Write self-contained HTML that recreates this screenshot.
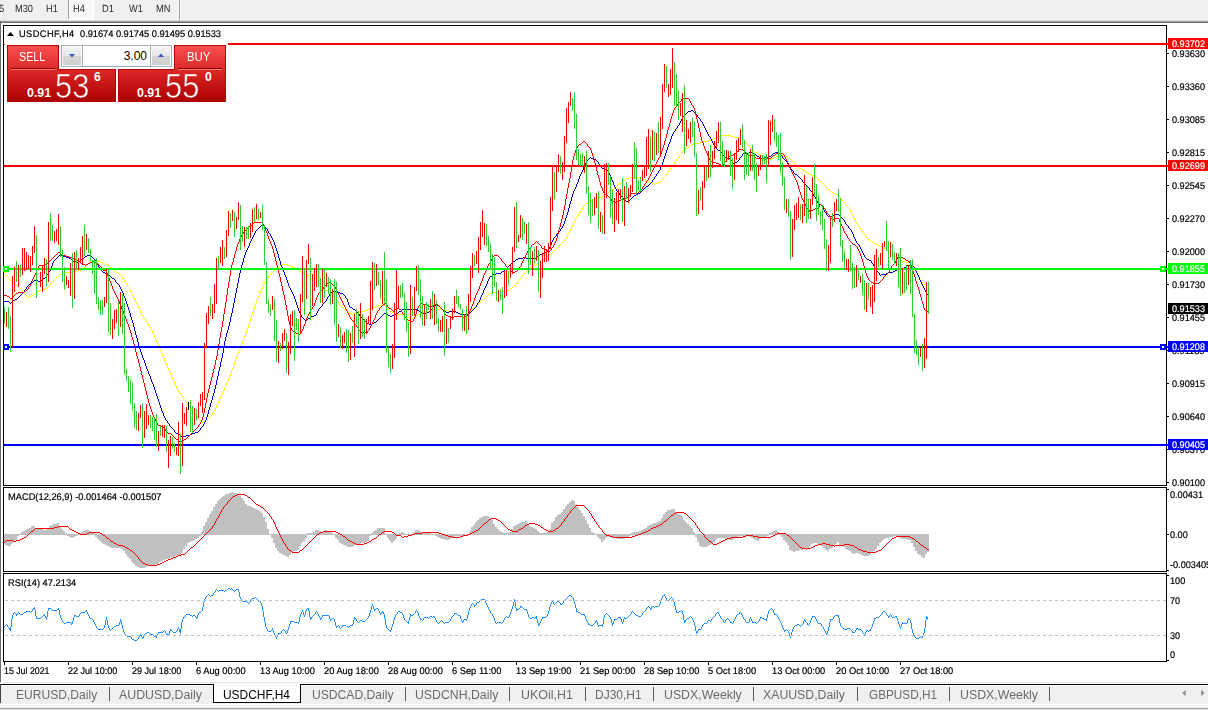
<!DOCTYPE html>
<html><head><meta charset="utf-8"><title>USDCHF,H4</title>
<style>
html,body{margin:0;padding:0;}
body{width:1208px;height:710px;overflow:hidden;background:#fff;position:relative;font-family:"Liberation Sans",sans-serif;color:#000;}
.abs{position:absolute;}
.t{position:absolute;white-space:nowrap;font-size:9.6px;line-height:11px;height:11px;-webkit-text-stroke:0.2px currentColor;transform:scaleX(0.969);transform-origin:0 50%;text-rendering:geometricPrecision;}
.ax{position:absolute;white-space:nowrap;font-size:9.6px;line-height:11px;height:11px;left:1172px;-webkit-text-stroke:0.2px currentColor;transform:scaleX(0.9512);transform-origin:0 50%;margin-top:1.0px;text-rendering:geometricPrecision;}
.tab{position:absolute;white-space:nowrap;font-size:12.3px;line-height:14px;top:688px;color:#6a6a6a;transform-origin:0 0;}
.sep{position:absolute;top:687px;width:1px;height:14px;background:#5a5a5a;}
.lab{position:absolute;left:1168px;width:40px;height:11px;color:#fff;font-size:9.2px;line-height:11px;white-space:nowrap;-webkit-text-stroke:0.2px currentColor;}
.lab span{position:absolute;left:4px;top:1.0px;font-size:9.6px;-webkit-text-stroke:0.2px currentColor;transform:scaleX(0.9512);transform-origin:0 50%;text-rendering:geometricPrecision;}
</style></head><body>

<div class="abs" style="left:0;top:0;width:1208px;height:20px;background:#f0f0f0;"></div>
<div class="abs" style="left:0;top:20px;width:1208px;height:1px;background:#dcdcdc;"></div>
<div class="abs" style="left:0;top:21px;width:1208px;height:1px;background:#a0a0a0;"></div>
<div class="abs" style="left:0;top:22px;width:1208px;height:1px;background:#696969;"></div>
<div class="abs" style="left:0;top:21px;width:1px;height:661px;background:#6a6a6a;"></div>
<div class="abs" style="left:68px;top:0;width:25px;height:19px;background:repeating-conic-gradient(#ffffff 0% 25%,#f0f0f0 0% 50%) 0 0/2px 2px;border-left:1px solid #a0a0a0;box-sizing:border-box;"></div>
<div class="abs" style="left:93px;top:0;width:1px;height:20px;background:#fff;"></div>
<div class="abs" style="left:68px;top:19px;width:26px;height:1px;background:#fff;"></div>
<div class="abs" style="left:179px;top:0;width:1px;height:21px;background:#a0a0a0;"></div>
<div class="abs" style="left:180px;top:0;width:1px;height:21px;background:#ffffff;"></div>
<div class="t" style="left:-0.6px;top:4px;color:#2a2a2a;font-size:10.4px;-webkit-text-stroke:0;transform:scaleX(0.89);transform-origin:0 0;">5</div>
<div class="t" style="left:15.4px;top:4px;color:#2a2a2a;font-size:10.4px;-webkit-text-stroke:0;transform:scaleX(0.89);transform-origin:0 0;">M30</div>
<div class="t" style="left:46.4px;top:4px;color:#2a2a2a;font-size:10.4px;-webkit-text-stroke:0;transform:scaleX(0.89);transform-origin:0 0;">H1</div>
<div class="t" style="left:73.4px;top:4px;color:#2a2a2a;font-size:10.4px;-webkit-text-stroke:0;transform:scaleX(0.89);transform-origin:0 0;">H4</div>
<div class="t" style="left:102.4px;top:4px;color:#2a2a2a;font-size:10.4px;-webkit-text-stroke:0;transform:scaleX(0.89);transform-origin:0 0;">D1</div>
<div class="t" style="left:129.4px;top:4px;color:#2a2a2a;font-size:10.4px;-webkit-text-stroke:0;transform:scaleX(0.89);transform-origin:0 0;">W1</div>
<div class="t" style="left:156.4px;top:4px;color:#2a2a2a;font-size:10.4px;-webkit-text-stroke:0;transform:scaleX(0.89);transform-origin:0 0;">MN</div>
<div class="abs" style="left:3px;top:25px;width:1162px;height:459px;border:1px solid #000;"></div>
<div class="abs" style="left:3px;top:487px;width:1162px;height:83px;border:1px solid #000;"></div>
<div class="abs" style="left:3px;top:573px;width:1162px;height:87px;border:1px solid #000;"></div>
<svg class="abs" style="left:0;top:0;" width="1208" height="710" viewBox="0 0 1208 710" shape-rendering="crispEdges">
<rect x="4" y="534" width="1" height="10" fill="#c0c0c0"/>
<rect x="5" y="534" width="2" height="11" fill="#c0c0c0"/>
<rect x="7" y="534" width="2" height="12" fill="#c0c0c0"/>
<rect x="9" y="534" width="2" height="12" fill="#c0c0c0"/>
<rect x="11" y="534" width="2" height="10" fill="#c0c0c0"/>
<rect x="13" y="534" width="2" height="8" fill="#c0c0c0"/>
<rect x="15" y="534" width="2" height="6" fill="#c0c0c0"/>
<rect x="17" y="534" width="2" height="2" fill="#c0c0c0"/>
<rect x="19" y="534" width="2" height="1" fill="#c0c0c0"/>
<rect x="21" y="532" width="2" height="3" fill="#c0c0c0"/>
<rect x="23" y="531" width="2" height="4" fill="#c0c0c0"/>
<rect x="25" y="530" width="2" height="5" fill="#c0c0c0"/>
<rect x="27" y="529" width="2" height="6" fill="#c0c0c0"/>
<rect x="29" y="528" width="2" height="7" fill="#c0c0c0"/>
<rect x="31" y="526" width="2" height="9" fill="#c0c0c0"/>
<rect x="33" y="526" width="2" height="9" fill="#c0c0c0"/>
<rect x="35" y="528" width="2" height="7" fill="#c0c0c0"/>
<rect x="37" y="529" width="2" height="6" fill="#c0c0c0"/>
<rect x="39" y="529" width="2" height="6" fill="#c0c0c0"/>
<rect x="41" y="529" width="2" height="6" fill="#c0c0c0"/>
<rect x="43" y="530" width="2" height="5" fill="#c0c0c0"/>
<rect x="45" y="530" width="2" height="5" fill="#c0c0c0"/>
<rect x="47" y="528" width="2" height="7" fill="#c0c0c0"/>
<rect x="49" y="526" width="2" height="9" fill="#c0c0c0"/>
<rect x="51" y="525" width="2" height="10" fill="#c0c0c0"/>
<rect x="53" y="524" width="2" height="11" fill="#c0c0c0"/>
<rect x="55" y="524" width="2" height="11" fill="#c0c0c0"/>
<rect x="57" y="523" width="2" height="12" fill="#c0c0c0"/>
<rect x="59" y="526" width="2" height="9" fill="#c0c0c0"/>
<rect x="61" y="529" width="2" height="6" fill="#c0c0c0"/>
<rect x="63" y="531" width="2" height="4" fill="#c0c0c0"/>
<rect x="65" y="533" width="2" height="2" fill="#c0c0c0"/>
<rect x="67" y="534" width="2" height="2" fill="#c0c0c0"/>
<rect x="69" y="534" width="2" height="3" fill="#c0c0c0"/>
<rect x="71" y="534" width="2" height="4" fill="#c0c0c0"/>
<rect x="73" y="534" width="2" height="3" fill="#c0c0c0"/>
<rect x="75" y="534" width="2" height="2" fill="#c0c0c0"/>
<rect x="77" y="534" width="2" height="1" fill="#c0c0c0"/>
<rect x="79" y="533" width="2" height="2" fill="#c0c0c0"/>
<rect x="81" y="532" width="2" height="3" fill="#c0c0c0"/>
<rect x="83" y="531" width="2" height="4" fill="#c0c0c0"/>
<rect x="85" y="530" width="2" height="5" fill="#c0c0c0"/>
<rect x="87" y="530" width="2" height="5" fill="#c0c0c0"/>
<rect x="89" y="531" width="2" height="4" fill="#c0c0c0"/>
<rect x="91" y="532" width="2" height="3" fill="#c0c0c0"/>
<rect x="93" y="533" width="2" height="2" fill="#c0c0c0"/>
<rect x="95" y="534" width="2" height="3" fill="#c0c0c0"/>
<rect x="97" y="534" width="2" height="5" fill="#c0c0c0"/>
<rect x="99" y="534" width="2" height="7" fill="#c0c0c0"/>
<rect x="101" y="534" width="2" height="9" fill="#c0c0c0"/>
<rect x="103" y="534" width="2" height="10" fill="#c0c0c0"/>
<rect x="105" y="534" width="2" height="11" fill="#c0c0c0"/>
<rect x="107" y="534" width="2" height="12" fill="#c0c0c0"/>
<rect x="109" y="534" width="2" height="13" fill="#c0c0c0"/>
<rect x="111" y="534" width="2" height="14" fill="#c0c0c0"/>
<rect x="113" y="534" width="2" height="14" fill="#c0c0c0"/>
<rect x="115" y="534" width="2" height="14" fill="#c0c0c0"/>
<rect x="117" y="534" width="2" height="14" fill="#c0c0c0"/>
<rect x="119" y="534" width="2" height="14" fill="#c0c0c0"/>
<rect x="121" y="534" width="2" height="15" fill="#c0c0c0"/>
<rect x="123" y="534" width="2" height="17" fill="#c0c0c0"/>
<rect x="125" y="534" width="2" height="20" fill="#c0c0c0"/>
<rect x="127" y="534" width="2" height="23" fill="#c0c0c0"/>
<rect x="129" y="534" width="2" height="25" fill="#c0c0c0"/>
<rect x="131" y="534" width="2" height="28" fill="#c0c0c0"/>
<rect x="133" y="534" width="2" height="30" fill="#c0c0c0"/>
<rect x="135" y="534" width="2" height="32" fill="#c0c0c0"/>
<rect x="137" y="534" width="2" height="33" fill="#c0c0c0"/>
<rect x="139" y="534" width="2" height="34" fill="#c0c0c0"/>
<rect x="141" y="534" width="2" height="34" fill="#c0c0c0"/>
<rect x="143" y="534" width="2" height="34" fill="#c0c0c0"/>
<rect x="145" y="534" width="2" height="33" fill="#c0c0c0"/>
<rect x="147" y="534" width="2" height="32" fill="#c0c0c0"/>
<rect x="149" y="534" width="2" height="32" fill="#c0c0c0"/>
<rect x="151" y="534" width="2" height="31" fill="#c0c0c0"/>
<rect x="153" y="534" width="2" height="31" fill="#c0c0c0"/>
<rect x="155" y="534" width="2" height="30" fill="#c0c0c0"/>
<rect x="157" y="534" width="2" height="30" fill="#c0c0c0"/>
<rect x="159" y="534" width="2" height="28" fill="#c0c0c0"/>
<rect x="161" y="534" width="2" height="27" fill="#c0c0c0"/>
<rect x="163" y="534" width="2" height="26" fill="#c0c0c0"/>
<rect x="165" y="534" width="2" height="25" fill="#c0c0c0"/>
<rect x="167" y="534" width="2" height="25" fill="#c0c0c0"/>
<rect x="169" y="534" width="2" height="24" fill="#c0c0c0"/>
<rect x="171" y="534" width="2" height="23" fill="#c0c0c0"/>
<rect x="173" y="534" width="2" height="23" fill="#c0c0c0"/>
<rect x="175" y="534" width="2" height="22" fill="#c0c0c0"/>
<rect x="177" y="534" width="2" height="21" fill="#c0c0c0"/>
<rect x="179" y="534" width="2" height="21" fill="#c0c0c0"/>
<rect x="181" y="534" width="2" height="19" fill="#c0c0c0"/>
<rect x="183" y="534" width="2" height="15" fill="#c0c0c0"/>
<rect x="185" y="534" width="2" height="12" fill="#c0c0c0"/>
<rect x="187" y="534" width="2" height="9" fill="#c0c0c0"/>
<rect x="189" y="534" width="2" height="8" fill="#c0c0c0"/>
<rect x="191" y="534" width="2" height="7" fill="#c0c0c0"/>
<rect x="193" y="534" width="2" height="6" fill="#c0c0c0"/>
<rect x="195" y="534" width="2" height="5" fill="#c0c0c0"/>
<rect x="197" y="534" width="2" height="4" fill="#c0c0c0"/>
<rect x="199" y="534" width="2" height="2" fill="#c0c0c0"/>
<rect x="201" y="532" width="2" height="3" fill="#c0c0c0"/>
<rect x="203" y="526" width="2" height="9" fill="#c0c0c0"/>
<rect x="205" y="522" width="2" height="13" fill="#c0c0c0"/>
<rect x="207" y="518" width="2" height="17" fill="#c0c0c0"/>
<rect x="209" y="514" width="2" height="21" fill="#c0c0c0"/>
<rect x="211" y="511" width="2" height="24" fill="#c0c0c0"/>
<rect x="213" y="507" width="2" height="28" fill="#c0c0c0"/>
<rect x="215" y="504" width="2" height="31" fill="#c0c0c0"/>
<rect x="217" y="501" width="2" height="34" fill="#c0c0c0"/>
<rect x="219" y="499" width="2" height="36" fill="#c0c0c0"/>
<rect x="221" y="497" width="2" height="38" fill="#c0c0c0"/>
<rect x="223" y="496" width="2" height="39" fill="#c0c0c0"/>
<rect x="225" y="494" width="2" height="41" fill="#c0c0c0"/>
<rect x="227" y="494" width="2" height="41" fill="#c0c0c0"/>
<rect x="229" y="493" width="2" height="42" fill="#c0c0c0"/>
<rect x="231" y="492" width="2" height="43" fill="#c0c0c0"/>
<rect x="233" y="493" width="2" height="42" fill="#c0c0c0"/>
<rect x="235" y="493" width="2" height="42" fill="#c0c0c0"/>
<rect x="237" y="494" width="2" height="41" fill="#c0c0c0"/>
<rect x="239" y="496" width="2" height="39" fill="#c0c0c0"/>
<rect x="241" y="498" width="2" height="37" fill="#c0c0c0"/>
<rect x="243" y="501" width="2" height="34" fill="#c0c0c0"/>
<rect x="245" y="504" width="2" height="31" fill="#c0c0c0"/>
<rect x="247" y="506" width="2" height="29" fill="#c0c0c0"/>
<rect x="249" y="506" width="2" height="29" fill="#c0c0c0"/>
<rect x="251" y="507" width="2" height="28" fill="#c0c0c0"/>
<rect x="253" y="508" width="2" height="27" fill="#c0c0c0"/>
<rect x="255" y="509" width="2" height="26" fill="#c0c0c0"/>
<rect x="257" y="510" width="2" height="25" fill="#c0c0c0"/>
<rect x="259" y="511" width="2" height="24" fill="#c0c0c0"/>
<rect x="261" y="513" width="2" height="22" fill="#c0c0c0"/>
<rect x="263" y="517" width="2" height="18" fill="#c0c0c0"/>
<rect x="265" y="522" width="2" height="13" fill="#c0c0c0"/>
<rect x="267" y="529" width="2" height="6" fill="#c0c0c0"/>
<rect x="269" y="534" width="2" height="1" fill="#c0c0c0"/>
<rect x="271" y="534" width="2" height="4" fill="#c0c0c0"/>
<rect x="273" y="534" width="2" height="9" fill="#c0c0c0"/>
<rect x="275" y="534" width="2" height="14" fill="#c0c0c0"/>
<rect x="277" y="534" width="2" height="17" fill="#c0c0c0"/>
<rect x="279" y="534" width="2" height="19" fill="#c0c0c0"/>
<rect x="281" y="534" width="2" height="20" fill="#c0c0c0"/>
<rect x="283" y="534" width="2" height="21" fill="#c0c0c0"/>
<rect x="285" y="534" width="2" height="22" fill="#c0c0c0"/>
<rect x="287" y="534" width="2" height="23" fill="#c0c0c0"/>
<rect x="289" y="534" width="2" height="21" fill="#c0c0c0"/>
<rect x="291" y="534" width="2" height="18" fill="#c0c0c0"/>
<rect x="293" y="534" width="2" height="17" fill="#c0c0c0"/>
<rect x="295" y="534" width="2" height="17" fill="#c0c0c0"/>
<rect x="297" y="534" width="2" height="16" fill="#c0c0c0"/>
<rect x="299" y="534" width="2" height="12" fill="#c0c0c0"/>
<rect x="301" y="534" width="2" height="9" fill="#c0c0c0"/>
<rect x="303" y="534" width="2" height="7" fill="#c0c0c0"/>
<rect x="305" y="534" width="2" height="4" fill="#c0c0c0"/>
<rect x="307" y="533" width="2" height="2" fill="#c0c0c0"/>
<rect x="309" y="533" width="2" height="2" fill="#c0c0c0"/>
<rect x="311" y="533" width="2" height="2" fill="#c0c0c0"/>
<rect x="313" y="532" width="2" height="3" fill="#c0c0c0"/>
<rect x="315" y="530" width="2" height="5" fill="#c0c0c0"/>
<rect x="317" y="530" width="2" height="5" fill="#c0c0c0"/>
<rect x="319" y="531" width="2" height="4" fill="#c0c0c0"/>
<rect x="321" y="532" width="2" height="3" fill="#c0c0c0"/>
<rect x="323" y="531" width="2" height="4" fill="#c0c0c0"/>
<rect x="325" y="530" width="2" height="5" fill="#c0c0c0"/>
<rect x="327" y="531" width="2" height="4" fill="#c0c0c0"/>
<rect x="329" y="531" width="2" height="4" fill="#c0c0c0"/>
<rect x="331" y="533" width="2" height="2" fill="#c0c0c0"/>
<rect x="333" y="534" width="2" height="1" fill="#c0c0c0"/>
<rect x="335" y="534" width="2" height="4" fill="#c0c0c0"/>
<rect x="337" y="534" width="2" height="6" fill="#c0c0c0"/>
<rect x="339" y="534" width="2" height="9" fill="#c0c0c0"/>
<rect x="341" y="534" width="2" height="10" fill="#c0c0c0"/>
<rect x="343" y="534" width="2" height="11" fill="#c0c0c0"/>
<rect x="345" y="534" width="2" height="12" fill="#c0c0c0"/>
<rect x="347" y="534" width="2" height="13" fill="#c0c0c0"/>
<rect x="349" y="534" width="2" height="13" fill="#c0c0c0"/>
<rect x="351" y="534" width="2" height="13" fill="#c0c0c0"/>
<rect x="353" y="534" width="2" height="12" fill="#c0c0c0"/>
<rect x="355" y="534" width="2" height="11" fill="#c0c0c0"/>
<rect x="357" y="534" width="2" height="10" fill="#c0c0c0"/>
<rect x="359" y="534" width="2" height="10" fill="#c0c0c0"/>
<rect x="361" y="534" width="2" height="9" fill="#c0c0c0"/>
<rect x="363" y="534" width="2" height="9" fill="#c0c0c0"/>
<rect x="365" y="534" width="2" height="8" fill="#c0c0c0"/>
<rect x="367" y="534" width="2" height="7" fill="#c0c0c0"/>
<rect x="369" y="534" width="2" height="2" fill="#c0c0c0"/>
<rect x="371" y="533" width="2" height="2" fill="#c0c0c0"/>
<rect x="373" y="531" width="2" height="4" fill="#c0c0c0"/>
<rect x="375" y="530" width="2" height="5" fill="#c0c0c0"/>
<rect x="377" y="528" width="2" height="7" fill="#c0c0c0"/>
<rect x="379" y="528" width="2" height="7" fill="#c0c0c0"/>
<rect x="381" y="528" width="2" height="7" fill="#c0c0c0"/>
<rect x="383" y="528" width="2" height="7" fill="#c0c0c0"/>
<rect x="385" y="534" width="2" height="1" fill="#c0c0c0"/>
<rect x="387" y="534" width="2" height="4" fill="#c0c0c0"/>
<rect x="389" y="534" width="2" height="7" fill="#c0c0c0"/>
<rect x="391" y="534" width="2" height="9" fill="#c0c0c0"/>
<rect x="393" y="534" width="2" height="7" fill="#c0c0c0"/>
<rect x="395" y="534" width="2" height="5" fill="#c0c0c0"/>
<rect x="397" y="534" width="2" height="2" fill="#c0c0c0"/>
<rect x="399" y="533" width="2" height="2" fill="#c0c0c0"/>
<rect x="401" y="532" width="2" height="3" fill="#c0c0c0"/>
<rect x="403" y="533" width="2" height="2" fill="#c0c0c0"/>
<rect x="405" y="534" width="2" height="1" fill="#c0c0c0"/>
<rect x="407" y="534" width="2" height="1" fill="#c0c0c0"/>
<rect x="409" y="534" width="2" height="1" fill="#c0c0c0"/>
<rect x="411" y="534" width="2" height="1" fill="#c0c0c0"/>
<rect x="413" y="532" width="2" height="3" fill="#c0c0c0"/>
<rect x="415" y="530" width="2" height="5" fill="#c0c0c0"/>
<rect x="417" y="530" width="2" height="5" fill="#c0c0c0"/>
<rect x="419" y="531" width="2" height="4" fill="#c0c0c0"/>
<rect x="421" y="532" width="2" height="3" fill="#c0c0c0"/>
<rect x="423" y="533" width="2" height="2" fill="#c0c0c0"/>
<rect x="425" y="533" width="2" height="2" fill="#c0c0c0"/>
<rect x="427" y="533" width="2" height="2" fill="#c0c0c0"/>
<rect x="429" y="533" width="2" height="2" fill="#c0c0c0"/>
<rect x="431" y="534" width="2" height="1" fill="#c0c0c0"/>
<rect x="433" y="534" width="2" height="1" fill="#c0c0c0"/>
<rect x="435" y="534" width="2" height="2" fill="#c0c0c0"/>
<rect x="437" y="534" width="2" height="3" fill="#c0c0c0"/>
<rect x="439" y="534" width="2" height="4" fill="#c0c0c0"/>
<rect x="441" y="534" width="2" height="5" fill="#c0c0c0"/>
<rect x="443" y="534" width="2" height="5" fill="#c0c0c0"/>
<rect x="445" y="534" width="2" height="6" fill="#c0c0c0"/>
<rect x="447" y="534" width="2" height="6" fill="#c0c0c0"/>
<rect x="449" y="534" width="2" height="5" fill="#c0c0c0"/>
<rect x="451" y="534" width="2" height="4" fill="#c0c0c0"/>
<rect x="453" y="534" width="2" height="3" fill="#c0c0c0"/>
<rect x="455" y="534" width="2" height="2" fill="#c0c0c0"/>
<rect x="457" y="534" width="2" height="2" fill="#c0c0c0"/>
<rect x="459" y="534" width="2" height="2" fill="#c0c0c0"/>
<rect x="461" y="534" width="2" height="2" fill="#c0c0c0"/>
<rect x="463" y="534" width="2" height="2" fill="#c0c0c0"/>
<rect x="465" y="534" width="2" height="1" fill="#c0c0c0"/>
<rect x="467" y="534" width="2" height="1" fill="#c0c0c0"/>
<rect x="469" y="531" width="2" height="4" fill="#c0c0c0"/>
<rect x="471" y="527" width="2" height="8" fill="#c0c0c0"/>
<rect x="473" y="525" width="2" height="10" fill="#c0c0c0"/>
<rect x="475" y="522" width="2" height="13" fill="#c0c0c0"/>
<rect x="477" y="520" width="2" height="15" fill="#c0c0c0"/>
<rect x="479" y="518" width="2" height="17" fill="#c0c0c0"/>
<rect x="481" y="517" width="2" height="18" fill="#c0c0c0"/>
<rect x="483" y="516" width="2" height="19" fill="#c0c0c0"/>
<rect x="485" y="516" width="2" height="19" fill="#c0c0c0"/>
<rect x="487" y="516" width="2" height="19" fill="#c0c0c0"/>
<rect x="489" y="518" width="2" height="17" fill="#c0c0c0"/>
<rect x="491" y="520" width="2" height="15" fill="#c0c0c0"/>
<rect x="493" y="524" width="2" height="11" fill="#c0c0c0"/>
<rect x="495" y="527" width="2" height="8" fill="#c0c0c0"/>
<rect x="497" y="529" width="2" height="6" fill="#c0c0c0"/>
<rect x="499" y="531" width="2" height="4" fill="#c0c0c0"/>
<rect x="501" y="532" width="2" height="3" fill="#c0c0c0"/>
<rect x="503" y="533" width="2" height="2" fill="#c0c0c0"/>
<rect x="505" y="533" width="2" height="2" fill="#c0c0c0"/>
<rect x="507" y="533" width="2" height="2" fill="#c0c0c0"/>
<rect x="509" y="532" width="2" height="3" fill="#c0c0c0"/>
<rect x="511" y="529" width="2" height="6" fill="#c0c0c0"/>
<rect x="513" y="526" width="2" height="9" fill="#c0c0c0"/>
<rect x="515" y="525" width="2" height="10" fill="#c0c0c0"/>
<rect x="517" y="524" width="2" height="11" fill="#c0c0c0"/>
<rect x="519" y="523" width="2" height="12" fill="#c0c0c0"/>
<rect x="521" y="522" width="2" height="13" fill="#c0c0c0"/>
<rect x="523" y="522" width="2" height="13" fill="#c0c0c0"/>
<rect x="525" y="521" width="2" height="14" fill="#c0c0c0"/>
<rect x="527" y="524" width="2" height="11" fill="#c0c0c0"/>
<rect x="529" y="526" width="2" height="9" fill="#c0c0c0"/>
<rect x="531" y="527" width="2" height="8" fill="#c0c0c0"/>
<rect x="533" y="528" width="2" height="7" fill="#c0c0c0"/>
<rect x="535" y="529" width="2" height="6" fill="#c0c0c0"/>
<rect x="537" y="531" width="2" height="4" fill="#c0c0c0"/>
<rect x="539" y="533" width="2" height="2" fill="#c0c0c0"/>
<rect x="541" y="533" width="2" height="2" fill="#c0c0c0"/>
<rect x="543" y="533" width="2" height="2" fill="#c0c0c0"/>
<rect x="545" y="533" width="2" height="2" fill="#c0c0c0"/>
<rect x="547" y="532" width="2" height="3" fill="#c0c0c0"/>
<rect x="549" y="529" width="2" height="6" fill="#c0c0c0"/>
<rect x="551" y="523" width="2" height="12" fill="#c0c0c0"/>
<rect x="553" y="521" width="2" height="14" fill="#c0c0c0"/>
<rect x="555" y="517" width="2" height="18" fill="#c0c0c0"/>
<rect x="557" y="515" width="2" height="20" fill="#c0c0c0"/>
<rect x="559" y="514" width="2" height="21" fill="#c0c0c0"/>
<rect x="561" y="512" width="2" height="23" fill="#c0c0c0"/>
<rect x="563" y="509" width="2" height="26" fill="#c0c0c0"/>
<rect x="565" y="506" width="2" height="29" fill="#c0c0c0"/>
<rect x="567" y="504" width="2" height="31" fill="#c0c0c0"/>
<rect x="569" y="502" width="2" height="33" fill="#c0c0c0"/>
<rect x="571" y="500" width="2" height="35" fill="#c0c0c0"/>
<rect x="573" y="501" width="2" height="34" fill="#c0c0c0"/>
<rect x="575" y="504" width="2" height="31" fill="#c0c0c0"/>
<rect x="577" y="507" width="2" height="28" fill="#c0c0c0"/>
<rect x="579" y="510" width="2" height="25" fill="#c0c0c0"/>
<rect x="581" y="513" width="2" height="22" fill="#c0c0c0"/>
<rect x="583" y="516" width="2" height="19" fill="#c0c0c0"/>
<rect x="585" y="520" width="2" height="15" fill="#c0c0c0"/>
<rect x="587" y="524" width="2" height="11" fill="#c0c0c0"/>
<rect x="589" y="528" width="2" height="7" fill="#c0c0c0"/>
<rect x="591" y="532" width="2" height="3" fill="#c0c0c0"/>
<rect x="593" y="533" width="2" height="2" fill="#c0c0c0"/>
<rect x="595" y="534" width="2" height="1" fill="#c0c0c0"/>
<rect x="597" y="534" width="2" height="3" fill="#c0c0c0"/>
<rect x="599" y="534" width="2" height="5" fill="#c0c0c0"/>
<rect x="601" y="534" width="2" height="8" fill="#c0c0c0"/>
<rect x="603" y="534" width="2" height="6" fill="#c0c0c0"/>
<rect x="605" y="534" width="2" height="4" fill="#c0c0c0"/>
<rect x="607" y="534" width="2" height="3" fill="#c0c0c0"/>
<rect x="609" y="534" width="2" height="3" fill="#c0c0c0"/>
<rect x="611" y="534" width="2" height="4" fill="#c0c0c0"/>
<rect x="613" y="534" width="2" height="4" fill="#c0c0c0"/>
<rect x="615" y="534" width="2" height="4" fill="#c0c0c0"/>
<rect x="617" y="534" width="2" height="5" fill="#c0c0c0"/>
<rect x="619" y="534" width="2" height="5" fill="#c0c0c0"/>
<rect x="621" y="534" width="2" height="5" fill="#c0c0c0"/>
<rect x="623" y="534" width="2" height="5" fill="#c0c0c0"/>
<rect x="625" y="534" width="2" height="4" fill="#c0c0c0"/>
<rect x="627" y="534" width="2" height="3" fill="#c0c0c0"/>
<rect x="629" y="534" width="2" height="2" fill="#c0c0c0"/>
<rect x="631" y="533" width="2" height="2" fill="#c0c0c0"/>
<rect x="633" y="532" width="2" height="3" fill="#c0c0c0"/>
<rect x="635" y="532" width="2" height="3" fill="#c0c0c0"/>
<rect x="637" y="532" width="2" height="3" fill="#c0c0c0"/>
<rect x="639" y="531" width="2" height="4" fill="#c0c0c0"/>
<rect x="641" y="530" width="2" height="5" fill="#c0c0c0"/>
<rect x="643" y="529" width="2" height="6" fill="#c0c0c0"/>
<rect x="645" y="528" width="2" height="7" fill="#c0c0c0"/>
<rect x="647" y="526" width="2" height="9" fill="#c0c0c0"/>
<rect x="649" y="525" width="2" height="10" fill="#c0c0c0"/>
<rect x="651" y="524" width="2" height="11" fill="#c0c0c0"/>
<rect x="653" y="523" width="2" height="12" fill="#c0c0c0"/>
<rect x="655" y="523" width="2" height="12" fill="#c0c0c0"/>
<rect x="657" y="522" width="2" height="13" fill="#c0c0c0"/>
<rect x="659" y="521" width="2" height="14" fill="#c0c0c0"/>
<rect x="661" y="518" width="2" height="17" fill="#c0c0c0"/>
<rect x="663" y="514" width="2" height="21" fill="#c0c0c0"/>
<rect x="665" y="512" width="2" height="23" fill="#c0c0c0"/>
<rect x="667" y="510" width="2" height="25" fill="#c0c0c0"/>
<rect x="669" y="510" width="2" height="25" fill="#c0c0c0"/>
<rect x="671" y="509" width="2" height="26" fill="#c0c0c0"/>
<rect x="673" y="509" width="2" height="26" fill="#c0c0c0"/>
<rect x="675" y="512" width="2" height="23" fill="#c0c0c0"/>
<rect x="677" y="514" width="2" height="21" fill="#c0c0c0"/>
<rect x="679" y="515" width="2" height="20" fill="#c0c0c0"/>
<rect x="681" y="516" width="2" height="19" fill="#c0c0c0"/>
<rect x="683" y="520" width="2" height="15" fill="#c0c0c0"/>
<rect x="685" y="522" width="2" height="13" fill="#c0c0c0"/>
<rect x="687" y="524" width="2" height="11" fill="#c0c0c0"/>
<rect x="689" y="526" width="2" height="9" fill="#c0c0c0"/>
<rect x="691" y="528" width="2" height="7" fill="#c0c0c0"/>
<rect x="693" y="532" width="2" height="3" fill="#c0c0c0"/>
<rect x="695" y="534" width="2" height="3" fill="#c0c0c0"/>
<rect x="697" y="534" width="2" height="8" fill="#c0c0c0"/>
<rect x="699" y="534" width="2" height="12" fill="#c0c0c0"/>
<rect x="701" y="534" width="2" height="13" fill="#c0c0c0"/>
<rect x="703" y="534" width="2" height="13" fill="#c0c0c0"/>
<rect x="705" y="534" width="2" height="13" fill="#c0c0c0"/>
<rect x="707" y="534" width="2" height="12" fill="#c0c0c0"/>
<rect x="709" y="534" width="2" height="11" fill="#c0c0c0"/>
<rect x="711" y="534" width="2" height="10" fill="#c0c0c0"/>
<rect x="713" y="534" width="2" height="8" fill="#c0c0c0"/>
<rect x="715" y="534" width="2" height="6" fill="#c0c0c0"/>
<rect x="717" y="534" width="2" height="4" fill="#c0c0c0"/>
<rect x="719" y="534" width="2" height="4" fill="#c0c0c0"/>
<rect x="721" y="534" width="2" height="4" fill="#c0c0c0"/>
<rect x="723" y="534" width="2" height="4" fill="#c0c0c0"/>
<rect x="725" y="534" width="2" height="5" fill="#c0c0c0"/>
<rect x="727" y="534" width="2" height="5" fill="#c0c0c0"/>
<rect x="729" y="534" width="2" height="6" fill="#c0c0c0"/>
<rect x="731" y="534" width="2" height="6" fill="#c0c0c0"/>
<rect x="733" y="534" width="2" height="5" fill="#c0c0c0"/>
<rect x="735" y="534" width="2" height="4" fill="#c0c0c0"/>
<rect x="737" y="534" width="2" height="3" fill="#c0c0c0"/>
<rect x="739" y="534" width="2" height="2" fill="#c0c0c0"/>
<rect x="741" y="534" width="2" height="2" fill="#c0c0c0"/>
<rect x="743" y="534" width="2" height="2" fill="#c0c0c0"/>
<rect x="745" y="534" width="2" height="2" fill="#c0c0c0"/>
<rect x="747" y="534" width="2" height="2" fill="#c0c0c0"/>
<rect x="749" y="534" width="2" height="3" fill="#c0c0c0"/>
<rect x="751" y="534" width="2" height="4" fill="#c0c0c0"/>
<rect x="753" y="534" width="2" height="5" fill="#c0c0c0"/>
<rect x="755" y="534" width="2" height="6" fill="#c0c0c0"/>
<rect x="757" y="534" width="2" height="7" fill="#c0c0c0"/>
<rect x="759" y="534" width="2" height="5" fill="#c0c0c0"/>
<rect x="761" y="534" width="2" height="4" fill="#c0c0c0"/>
<rect x="763" y="534" width="2" height="3" fill="#c0c0c0"/>
<rect x="765" y="534" width="2" height="3" fill="#c0c0c0"/>
<rect x="767" y="534" width="2" height="2" fill="#c0c0c0"/>
<rect x="769" y="533" width="2" height="2" fill="#c0c0c0"/>
<rect x="771" y="532" width="2" height="3" fill="#c0c0c0"/>
<rect x="773" y="531" width="2" height="4" fill="#c0c0c0"/>
<rect x="775" y="530" width="2" height="5" fill="#c0c0c0"/>
<rect x="777" y="532" width="2" height="3" fill="#c0c0c0"/>
<rect x="779" y="533" width="2" height="2" fill="#c0c0c0"/>
<rect x="781" y="534" width="2" height="3" fill="#c0c0c0"/>
<rect x="783" y="534" width="2" height="6" fill="#c0c0c0"/>
<rect x="785" y="534" width="2" height="8" fill="#c0c0c0"/>
<rect x="787" y="534" width="2" height="11" fill="#c0c0c0"/>
<rect x="789" y="534" width="2" height="16" fill="#c0c0c0"/>
<rect x="791" y="534" width="2" height="17" fill="#c0c0c0"/>
<rect x="793" y="534" width="2" height="18" fill="#c0c0c0"/>
<rect x="795" y="534" width="2" height="17" fill="#c0c0c0"/>
<rect x="797" y="534" width="2" height="17" fill="#c0c0c0"/>
<rect x="799" y="534" width="2" height="16" fill="#c0c0c0"/>
<rect x="801" y="534" width="2" height="16" fill="#c0c0c0"/>
<rect x="803" y="534" width="2" height="15" fill="#c0c0c0"/>
<rect x="805" y="534" width="2" height="15" fill="#c0c0c0"/>
<rect x="807" y="534" width="2" height="14" fill="#c0c0c0"/>
<rect x="809" y="534" width="2" height="12" fill="#c0c0c0"/>
<rect x="811" y="534" width="2" height="10" fill="#c0c0c0"/>
<rect x="813" y="534" width="2" height="9" fill="#c0c0c0"/>
<rect x="815" y="534" width="2" height="9" fill="#c0c0c0"/>
<rect x="817" y="534" width="2" height="10" fill="#c0c0c0"/>
<rect x="819" y="534" width="2" height="10" fill="#c0c0c0"/>
<rect x="821" y="534" width="2" height="12" fill="#c0c0c0"/>
<rect x="823" y="534" width="2" height="14" fill="#c0c0c0"/>
<rect x="825" y="534" width="2" height="16" fill="#c0c0c0"/>
<rect x="827" y="534" width="2" height="17" fill="#c0c0c0"/>
<rect x="829" y="534" width="2" height="15" fill="#c0c0c0"/>
<rect x="831" y="534" width="2" height="14" fill="#c0c0c0"/>
<rect x="833" y="534" width="2" height="12" fill="#c0c0c0"/>
<rect x="835" y="534" width="2" height="10" fill="#c0c0c0"/>
<rect x="837" y="534" width="2" height="8" fill="#c0c0c0"/>
<rect x="839" y="534" width="2" height="11" fill="#c0c0c0"/>
<rect x="841" y="534" width="2" height="12" fill="#c0c0c0"/>
<rect x="843" y="534" width="2" height="13" fill="#c0c0c0"/>
<rect x="845" y="534" width="2" height="15" fill="#c0c0c0"/>
<rect x="847" y="534" width="2" height="16" fill="#c0c0c0"/>
<rect x="849" y="534" width="2" height="17" fill="#c0c0c0"/>
<rect x="851" y="534" width="2" height="19" fill="#c0c0c0"/>
<rect x="853" y="534" width="2" height="20" fill="#c0c0c0"/>
<rect x="855" y="534" width="2" height="19" fill="#c0c0c0"/>
<rect x="857" y="534" width="2" height="19" fill="#c0c0c0"/>
<rect x="859" y="534" width="2" height="20" fill="#c0c0c0"/>
<rect x="861" y="534" width="2" height="21" fill="#c0c0c0"/>
<rect x="863" y="534" width="2" height="22" fill="#c0c0c0"/>
<rect x="865" y="534" width="2" height="22" fill="#c0c0c0"/>
<rect x="867" y="534" width="2" height="22" fill="#c0c0c0"/>
<rect x="869" y="534" width="2" height="21" fill="#c0c0c0"/>
<rect x="871" y="534" width="2" height="19" fill="#c0c0c0"/>
<rect x="873" y="534" width="2" height="17" fill="#c0c0c0"/>
<rect x="875" y="534" width="2" height="15" fill="#c0c0c0"/>
<rect x="877" y="534" width="2" height="12" fill="#c0c0c0"/>
<rect x="879" y="534" width="2" height="9" fill="#c0c0c0"/>
<rect x="881" y="534" width="2" height="7" fill="#c0c0c0"/>
<rect x="883" y="534" width="2" height="5" fill="#c0c0c0"/>
<rect x="885" y="534" width="2" height="4" fill="#c0c0c0"/>
<rect x="887" y="534" width="2" height="4" fill="#c0c0c0"/>
<rect x="889" y="534" width="2" height="3" fill="#c0c0c0"/>
<rect x="891" y="534" width="2" height="3" fill="#c0c0c0"/>
<rect x="893" y="534" width="2" height="2" fill="#c0c0c0"/>
<rect x="895" y="534" width="2" height="2" fill="#c0c0c0"/>
<rect x="897" y="534" width="2" height="3" fill="#c0c0c0"/>
<rect x="899" y="534" width="2" height="4" fill="#c0c0c0"/>
<rect x="901" y="534" width="2" height="5" fill="#c0c0c0"/>
<rect x="903" y="534" width="2" height="5" fill="#c0c0c0"/>
<rect x="905" y="534" width="2" height="5" fill="#c0c0c0"/>
<rect x="907" y="534" width="2" height="6" fill="#c0c0c0"/>
<rect x="909" y="534" width="2" height="6" fill="#c0c0c0"/>
<rect x="911" y="534" width="2" height="9" fill="#c0c0c0"/>
<rect x="913" y="534" width="2" height="13" fill="#c0c0c0"/>
<rect x="915" y="534" width="2" height="17" fill="#c0c0c0"/>
<rect x="917" y="534" width="2" height="20" fill="#c0c0c0"/>
<rect x="919" y="534" width="2" height="21" fill="#c0c0c0"/>
<rect x="921" y="534" width="2" height="23" fill="#c0c0c0"/>
<rect x="923" y="534" width="2" height="24" fill="#c0c0c0"/>
<rect x="925" y="534" width="2" height="20" fill="#c0c0c0"/>
<rect x="927" y="534" width="2" height="18" fill="#c0c0c0"/>
<path d="M4 542h1v1h-1zM5 541h1v1h-1zM6 540h7v1h-7zM13 541h3v1h-3zM16 540h4v1h-4zM20 539h2v1h-2zM22 538h2v1h-2zM24 537h2v1h-2zM26 536h1v1h-1zM27 535h1v1h-1zM28 534h1v1h-1zM29 533h1v1h-1zM30 532h1v1h-1zM31 531h2v1h-2zM33 530h1v1h-1zM34 529h1v1h-1zM35 528h19v1h-19zM54 527h4v1h-4zM58 526h10v1h-10zM68 527h1v1h-1zM69 528h1v1h-1zM70 529h2v1h-2zM72 530h2v1h-2zM74 531h2v1h-2zM76 532h2v1h-2zM78 533h2v1h-2zM80 534h7v1h-7zM87 533h2v1h-2zM89 532h11v1h-11zM100 533h2v1h-2zM102 534h1v1h-1zM103 535h2v1h-2zM105 536h1v1h-1zM106 537h1v1h-1zM107 538h2v1h-2zM109 539h1v1h-1zM110 540h1v1h-1zM111 541h2v1h-2zM113 542h1v1h-1zM114 543h2v1h-2zM116 544h2v1h-2zM118 545h5v1h-5zM123 546h2v1h-2zM125 547h2v1h-2zM127 548h2v1h-2zM129 549h1v1h-1zM130 550h2v1h-2zM132 551h1v1h-1zM133 552h1v1h-1zM134 553h1v1h-1zM135 554h1v1h-1zM136 555h1v1h-1zM137 556h1v1h-1zM138 557h1v2h-1zM139 559h1v1h-1zM140 560h1v1h-1zM141 561h1v1h-1zM142 562h1v1h-1zM143 563h2v1h-2zM145 564h3v1h-3zM148 565h9v1h-9zM157 564h3v1h-3zM160 563h2v1h-2zM162 562h2v1h-2zM164 561h2v1h-2zM166 560h2v1h-2zM168 559h3v1h-3zM171 558h2v1h-2zM173 557h3v1h-3zM176 556h2v1h-2zM178 555h3v1h-3zM181 554h4v1h-4zM185 553h1v1h-1zM186 552h1v1h-1zM187 551h1v1h-1zM188 550h1v1h-1zM189 549h1v1h-1zM190 548h1v1h-1zM191 547h2v1h-2zM193 546h1v1h-1zM194 545h1v1h-1zM195 544h1v1h-1zM196 543h1v1h-1zM197 542h1v1h-1zM198 541h1v1h-1zM199 540h1v1h-1zM200 539h1v1h-1zM201 538h1v1h-1zM202 537h1v1h-1zM203 536h1v1h-1zM204 535h1v1h-1zM205 534h1v1h-1zM206 533h1v1h-1zM207 532h1v1h-1zM208 531h1v1h-1zM209 530h1v1h-1zM210 529h1v1h-1zM211 528h1v1h-1zM212 526h1v2h-1zM213 525h1v1h-1zM214 523h1v2h-1zM215 521h1v2h-1zM216 519h1v2h-1zM217 518h1v1h-1zM218 516h1v2h-1zM219 514h1v2h-1zM220 512h1v2h-1zM221 510h1v2h-1zM222 509h1v1h-1zM223 507h1v2h-1zM224 506h1v1h-1zM225 505h1v1h-1zM226 504h1v1h-1zM227 502h1v2h-1zM228 501h1v1h-1zM229 500h1v1h-1zM230 499h1v1h-1zM231 498h1v1h-1zM232 497h1v1h-1zM233 496h2v1h-2zM235 495h2v1h-2zM237 494h8v1h-8zM245 495h2v1h-2zM247 496h1v1h-1zM248 497h2v1h-2zM250 498h1v1h-1zM251 499h1v1h-1zM252 500h1v1h-1zM253 501h1v1h-1zM254 502h1v1h-1zM255 503h1v1h-1zM256 504h2v1h-2zM258 505h2v1h-2zM260 506h1v1h-1zM261 507h2v1h-2zM263 508h1v1h-1zM264 509h1v1h-1zM265 510h1v1h-1zM266 511h1v1h-1zM267 512h1v1h-1zM268 513h1v1h-1zM269 514h1v2h-1zM270 516h1v1h-1zM271 517h1v2h-1zM272 519h1v1h-1zM273 520h1v2h-1zM274 522h1v2h-1zM275 524h1v3h-1zM276 527h1v2h-1zM277 529h1v2h-1zM278 531h1v2h-1zM279 533h1v2h-1zM280 535h1v2h-1zM281 537h1v2h-1zM282 539h1v2h-1zM283 541h1v2h-1zM284 543h1v1h-1zM285 544h1v2h-1zM286 546h1v1h-1zM287 547h1v2h-1zM288 549h1v1h-1zM289 550h2v1h-2zM291 551h1v1h-1zM292 552h7v1h-7zM299 551h1v1h-1zM300 550h2v1h-2zM302 549h1v1h-1zM303 548h1v1h-1zM304 547h1v1h-1zM305 546h1v1h-1zM306 545h1v1h-1zM307 544h1v1h-1zM308 543h1v1h-1zM309 542h1v1h-1zM310 541h1v1h-1zM311 540h1v1h-1zM312 539h1v1h-1zM313 538h1v1h-1zM314 537h1v1h-1zM315 536h1v1h-1zM316 535h1v1h-1zM317 534h2v1h-2zM319 533h1v1h-1zM320 532h3v1h-3zM323 531h13v1h-13zM336 532h2v1h-2zM338 533h2v1h-2zM340 534h2v1h-2zM342 535h1v1h-1zM343 536h2v1h-2zM345 537h1v1h-1zM346 538h1v1h-1zM347 539h1v1h-1zM348 540h2v1h-2zM350 541h2v1h-2zM352 542h2v1h-2zM354 543h2v1h-2zM356 544h8v1h-8zM364 543h3v1h-3zM367 542h2v1h-2zM369 541h2v1h-2zM371 540h1v1h-1zM372 539h2v1h-2zM374 538h2v1h-2zM376 537h1v1h-1zM377 536h1v1h-1zM378 535h1v1h-1zM379 534h2v1h-2zM381 533h1v1h-1zM382 532h2v1h-2zM384 531h8v1h-8zM392 532h2v1h-2zM394 533h1v1h-1zM395 534h1v1h-1zM396 535h5v1h-5zM401 536h1v1h-1zM402 537h2v1h-2zM404 536h4v1h-4zM408 535h4v1h-4zM412 534h3v1h-3zM415 533h7v1h-7zM422 532h17v1h-17zM439 533h3v1h-3zM442 534h3v1h-3zM445 535h3v1h-3zM448 536h4v1h-4zM452 537h8v1h-8zM460 536h3v1h-3zM463 535h5v1h-5zM468 534h2v1h-2zM470 533h2v1h-2zM472 532h2v1h-2zM474 531h2v1h-2zM476 530h2v1h-2zM478 529h1v1h-1zM479 528h1v1h-1zM480 527h1v1h-1zM481 526h1v1h-1zM482 525h1v1h-1zM483 524h1v1h-1zM484 523h2v1h-2zM486 522h1v1h-1zM487 521h1v1h-1zM488 520h1v1h-1zM489 519h2v1h-2zM491 518h5v1h-5zM496 519h2v1h-2zM498 520h2v1h-2zM500 521h1v1h-1zM501 522h1v1h-1zM502 523h1v1h-1zM503 524h1v1h-1zM504 525h1v1h-1zM505 526h1v1h-1zM506 527h1v1h-1zM507 528h1v1h-1zM508 529h2v1h-2zM510 530h2v1h-2zM512 531h6v1h-6zM518 530h1v1h-1zM519 529h2v1h-2zM521 528h2v1h-2zM523 527h1v1h-1zM524 526h1v1h-1zM525 525h2v1h-2zM527 524h2v1h-2zM529 523h6v1h-6zM535 524h3v1h-3zM538 525h2v1h-2zM540 526h1v1h-1zM541 527h2v1h-2zM543 528h1v1h-1zM544 529h2v1h-2zM546 530h2v1h-2zM548 531h5v1h-5zM553 530h2v1h-2zM555 529h1v1h-1zM556 528h2v1h-2zM558 527h1v1h-1zM559 526h1v1h-1zM560 525h1v1h-1zM561 523h1v2h-1zM562 522h1v1h-1zM563 521h1v1h-1zM564 519h1v2h-1zM565 518h1v1h-1zM566 517h1v1h-1zM567 515h1v2h-1zM568 514h1v1h-1zM569 513h1v1h-1zM570 511h1v2h-1zM571 510h1v1h-1zM572 509h1v1h-1zM573 508h1v1h-1zM574 507h1v1h-1zM575 506h1v1h-1zM576 505h8v1h-8zM584 506h1v1h-1zM585 507h1v1h-1zM586 508h1v1h-1zM587 509h1v1h-1zM588 510h1v1h-1zM589 511h1v2h-1zM590 513h1v1h-1zM591 514h1v2h-1zM592 516h1v2h-1zM593 518h1v1h-1zM594 519h1v2h-1zM595 521h1v1h-1zM596 522h1v2h-1zM597 524h1v1h-1zM598 525h1v2h-1zM599 527h1v1h-1zM600 528h1v1h-1zM601 529h1v1h-1zM602 530h1v2h-1zM603 532h1v1h-1zM604 533h1v1h-1zM605 534h1v1h-1zM606 535h4v1h-4zM610 536h3v1h-3zM613 537h19v1h-19zM632 536h3v1h-3zM635 535h3v1h-3zM638 534h3v1h-3zM641 533h2v1h-2zM643 532h3v1h-3zM646 531h2v1h-2zM648 530h2v1h-2zM650 529h1v1h-1zM651 528h2v1h-2zM653 527h3v1h-3zM656 526h2v1h-2zM658 525h2v1h-2zM660 524h2v1h-2zM662 523h1v1h-1zM663 522h1v1h-1zM664 521h2v1h-2zM666 520h1v1h-1zM667 519h1v1h-1zM668 518h1v1h-1zM669 517h1v1h-1zM670 516h1v1h-1zM671 515h2v1h-2zM673 514h1v1h-1zM674 513h2v1h-2zM676 512h8v1h-8zM684 513h2v1h-2zM686 514h1v1h-1zM687 515h1v1h-1zM688 516h1v1h-1zM689 517h1v1h-1zM690 518h1v1h-1zM691 519h1v1h-1zM692 520h1v1h-1zM693 521h1v1h-1zM694 522h1v1h-1zM695 523h1v2h-1zM696 525h1v1h-1zM697 526h1v2h-1zM698 528h1v1h-1zM699 529h1v2h-1zM700 531h1v1h-1zM701 532h1v1h-1zM702 533h1v1h-1zM703 534h1v1h-1zM704 535h1v2h-1zM705 537h1v1h-1zM706 538h1v1h-1zM707 539h1v1h-1zM708 540h1v1h-1zM709 541h2v1h-2zM711 542h1v1h-1zM712 543h1v1h-1zM713 544h4v1h-4zM717 543h2v1h-2zM719 542h2v1h-2zM721 541h2v1h-2zM723 540h2v1h-2zM725 539h2v1h-2zM727 538h4v1h-4zM731 537h12v1h-12zM743 536h3v1h-3zM746 535h7v1h-7zM753 536h5v1h-5zM758 537h13v1h-13zM771 536h2v1h-2zM773 535h2v1h-2zM775 534h2v1h-2zM777 533h9v1h-9zM786 534h1v1h-1zM787 535h2v1h-2zM789 536h1v1h-1zM790 537h1v1h-1zM791 538h1v1h-1zM792 539h1v1h-1zM793 540h1v1h-1zM794 541h1v1h-1zM795 542h1v1h-1zM796 543h1v1h-1zM797 544h1v1h-1zM798 545h1v1h-1zM799 546h1v1h-1zM800 547h2v1h-2zM802 548h4v1h-4zM806 549h1v1h-1zM807 548h4v1h-4zM811 547h2v1h-2zM813 546h2v1h-2zM815 545h3v1h-3zM818 544h4v1h-4zM822 543h4v1h-4zM826 544h4v1h-4zM830 545h4v1h-4zM834 546h1v1h-1zM835 545h9v1h-9zM844 544h6v1h-6zM850 545h4v1h-4zM854 546h1v1h-1zM855 547h2v1h-2zM857 548h1v1h-1zM858 549h3v1h-3zM861 550h2v1h-2zM863 551h4v1h-4zM867 552h9v1h-9zM876 551h2v1h-2zM878 550h3v1h-3zM881 549h1v1h-1zM882 548h1v1h-1zM883 547h1v1h-1zM884 546h1v1h-1zM885 545h1v1h-1zM886 544h1v1h-1zM887 543h1v1h-1zM888 542h1v1h-1zM889 541h1v1h-1zM890 540h1v1h-1zM891 539h1v1h-1zM892 538h2v1h-2zM894 537h2v1h-2zM896 536h14v1h-14zM910 537h2v1h-2zM912 538h2v1h-2zM914 539h1v1h-1zM915 540h1v1h-1zM916 541h2v1h-2zM918 542h1v1h-1zM919 543h1v1h-1zM920 544h1v1h-1zM921 545h2v1h-2zM923 546h1v1h-1zM924 547h2v1h-2zM926 548h1v1h-1zM927 549h2v1h-2z" fill="#ff0000"/>
<path d="M4 626h1v1h-1zM5 625h1v1h-1zM6 624h1v1h-1zM7 625h1v2h-1zM8 627h1v1h-1zM9 628h1v2h-1zM10 627h1v4h-1zM11 619h1v8h-1zM12 615h1v4h-1zM13 613h1v2h-1zM14 612h1v1h-1zM15 613h1v1h-1zM16 614h1v2h-1zM17 613h1v2h-1zM18 612h1v1h-1zM19 613h1v1h-1zM20 614h3v1h-3zM23 613h1v1h-1zM24 612h2v1h-2zM26 611h4v1h-4zM30 612h1v1h-1zM31 611h1v1h-1zM32 609h1v2h-1zM33 608h1v1h-1zM34 607h1v3h-1zM35 610h1v6h-1zM36 616h1v3h-1zM37 618h4v1h-4zM41 617h1v1h-1zM42 616h1v1h-1zM43 615h1v1h-1zM44 614h1v2h-1zM45 616h1v2h-1zM46 617h1v3h-1zM47 611h1v6h-1zM48 608h1v3h-1zM49 608h2v1h-2zM51 609h1v1h-1zM52 610h5v1h-5zM57 609h1v1h-1zM58 608h1v2h-1zM59 610h1v5h-1zM60 615h1v3h-1zM61 618h1v2h-1zM62 620h1v2h-1zM63 622h1v1h-1zM64 623h2v1h-2zM66 622h5v1h-5zM71 623h1v2h-1zM72 621h1v3h-1zM73 617h1v4h-1zM74 615h1v2h-1zM75 615h1v1h-1zM76 616h3v1h-3zM79 614h1v2h-1zM80 613h1v1h-1zM81 612h4v1h-4zM85 611h1v1h-1zM86 610h1v2h-1zM87 612h1v2h-1zM88 614h1v2h-1zM89 616h1v2h-1zM90 618h2v1h-2zM92 619h1v1h-1zM93 620h1v2h-1zM94 622h1v2h-1zM95 624h1v2h-1zM96 626h1v2h-1zM97 628h1v1h-1zM98 629h5v1h-5zM103 628h1v1h-1zM104 625h1v3h-1zM105 620h1v5h-1zM106 617h1v3h-1zM107 620h1v5h-1zM108 625h1v3h-1zM109 628h1v2h-1zM110 630h1v1h-1zM111 629h1v1h-1zM112 628h1v1h-1zM113 627h1v1h-1zM114 626h2v1h-2zM116 625h3v1h-3zM119 622h1v3h-1zM120 619h1v3h-1zM121 621h1v4h-1zM122 625h1v4h-1zM123 629h1v3h-1zM124 632h1v2h-1zM125 634h1v1h-1zM126 635h1v1h-1zM127 636h4v1h-4zM131 637h1v2h-1zM132 639h2v1h-2zM134 640h3v1h-3zM137 639h1v1h-1zM138 637h1v2h-1zM139 636h1v1h-1zM140 634h1v2h-1zM141 635h1v2h-1zM142 637h1v2h-1zM143 636h1v2h-1zM144 634h1v2h-1zM145 633h2v1h-2zM147 632h2v1h-2zM149 633h1v1h-1zM150 634h3v1h-3zM153 635h1v1h-1zM154 636h2v1h-2zM156 636h1v2h-1zM157 634h1v2h-1zM158 632h1v2h-1zM159 632h4v1h-4zM163 631h1v1h-1zM164 630h1v1h-1zM165 631h1v2h-1zM166 633h1v2h-1zM167 634h2v1h-2zM169 631h1v3h-1zM170 629h1v2h-1zM171 630h1v1h-1zM172 631h1v1h-1zM173 632h3v1h-3zM176 631h1v1h-1zM177 629h1v2h-1zM178 627h1v2h-1zM179 629h1v3h-1zM180 629h1v5h-1zM181 622h1v7h-1zM182 619h1v3h-1zM183 617h1v2h-1zM184 617h1v1h-1zM185 615h1v2h-1zM186 614h4v1h-4zM190 615h2v1h-2zM192 616h1v1h-1zM193 615h2v1h-2zM195 616h1v1h-1zM196 617h1v2h-1zM197 615h1v3h-1zM198 613h1v2h-1zM199 612h2v1h-2zM201 611h1v1h-1zM202 607h1v4h-1zM203 602h1v5h-1zM204 599h1v3h-1zM205 597h1v2h-1zM206 596h1v1h-1zM207 595h1v1h-1zM208 594h1v1h-1zM209 595h1v1h-1zM210 596h1v1h-1zM211 595h2v1h-2zM213 593h1v2h-1zM214 592h1v1h-1zM215 590h1v2h-1zM216 589h1v1h-1zM217 590h1v1h-1zM218 591h1v1h-1zM219 590h5v1h-5zM224 591h1v1h-1zM225 590h2v1h-2zM227 589h1v1h-1zM228 588h2v1h-2zM230 589h1v1h-1zM231 588h1v1h-1zM232 589h1v1h-1zM233 590h1v1h-1zM234 591h1v1h-1zM235 590h1v1h-1zM236 589h2v1h-2zM238 589h1v3h-1zM239 592h1v5h-1zM240 597h1v2h-1zM241 599h1v2h-1zM242 601h5v1h-5zM247 602h1v1h-1zM248 603h1v1h-1zM249 602h1v1h-1zM250 600h1v2h-1zM251 599h1v1h-1zM252 598h3v1h-3zM255 597h1v1h-1zM256 598h1v1h-1zM257 599h1v1h-1zM258 600h1v2h-1zM259 600h1v1h-1zM260 601h1v2h-1zM261 603h1v3h-1zM262 606h1v5h-1zM263 611h1v6h-1zM264 617h1v5h-1zM265 622h1v5h-1zM266 627h1v2h-1zM267 629h1v2h-1zM268 631h3v1h-3zM271 630h1v1h-1zM272 628h1v2h-1zM273 630h1v3h-1zM274 633h1v2h-1zM275 635h1v2h-1zM276 637h1v2h-1zM277 635h1v2h-1zM278 633h1v2h-1zM279 633h2v1h-2zM281 631h1v2h-1zM282 630h1v1h-1zM283 629h1v1h-1zM284 630h1v1h-1zM285 631h1v2h-1zM286 633h1v1h-1zM287 630h1v3h-1zM288 627h1v3h-1zM289 624h1v3h-1zM290 621h1v3h-1zM291 621h3v1h-3zM294 622h4v1h-4zM298 622h1v2h-1zM299 617h1v5h-1zM300 614h1v3h-1zM301 612h1v2h-1zM302 610h1v2h-1zM303 612h1v3h-1zM304 615h1v2h-1zM305 611h1v4h-1zM306 609h1v2h-1zM307 608h1v1h-1zM308 608h1v3h-1zM309 611h1v6h-1zM310 617h1v3h-1zM311 617h1v2h-1zM312 616h1v1h-1zM313 615h1v1h-1zM314 614h1v1h-1zM315 612h1v2h-1zM316 611h1v1h-1zM317 612h1v2h-1zM318 614h1v2h-1zM319 616h1v2h-1zM320 618h1v2h-1zM321 617h1v2h-1zM322 615h1v2h-1zM323 615h6v1h-6zM329 616h1v3h-1zM330 619h1v2h-1zM331 619h1v1h-1zM332 618h2v1h-2zM334 619h1v3h-1zM335 622h1v4h-1zM336 626h1v2h-1zM337 626h1v1h-1zM338 625h1v1h-1zM339 626h1v2h-1zM340 628h1v1h-1zM341 627h1v1h-1zM342 625h1v2h-1zM343 625h3v1h-3zM346 626h2v1h-2zM348 627h1v1h-1zM349 626h1v1h-1zM350 625h2v1h-2zM352 624h1v2h-1zM353 620h1v4h-1zM354 617h1v3h-1zM355 618h1v1h-1zM356 619h1v2h-1zM357 621h1v1h-1zM358 622h1v1h-1zM359 621h1v1h-1zM360 620h2v1h-2zM362 621h3v1h-3zM365 620h1v1h-1zM366 619h1v1h-1zM367 618h1v1h-1zM368 616h1v2h-1zM369 613h1v3h-1zM370 610h1v3h-1zM371 606h1v4h-1zM372 604h1v2h-1zM373 606h1v3h-1zM374 609h1v2h-1zM375 609h1v1h-1zM376 608h2v1h-2zM378 609h1v2h-1zM379 611h1v2h-1zM380 613h1v2h-1zM381 613h1v1h-1zM382 611h1v2h-1zM383 612h1v2h-1zM384 614h1v5h-1zM385 619h1v6h-1zM386 625h1v3h-1zM387 628h1v1h-1zM388 629h1v1h-1zM389 630h1v1h-1zM390 630h1v2h-1zM391 627h1v3h-1zM392 624h1v3h-1zM393 620h1v4h-1zM394 617h1v3h-1zM395 615h1v2h-1zM396 614h1v1h-1zM397 612h1v2h-1zM398 611h2v1h-2zM400 612h2v1h-2zM402 613h1v2h-1zM403 615h1v3h-1zM404 618h1v2h-1zM405 620h1v1h-1zM406 621h1v1h-1zM407 622h1v1h-1zM408 621h1v3h-1zM409 617h1v4h-1zM410 614h1v3h-1zM411 615h2v1h-2zM413 614h1v1h-1zM414 613h1v1h-1zM415 611h1v2h-1zM416 610h1v1h-1zM417 611h1v2h-1zM418 613h1v3h-1zM419 616h1v2h-1zM420 618h1v2h-1zM421 619h1v1h-1zM422 620h1v1h-1zM423 618h1v2h-1zM424 617h4v1h-4zM428 618h1v1h-1zM429 617h1v1h-1zM430 616h2v1h-2zM432 617h1v1h-1zM433 616h1v1h-1zM434 616h1v2h-1zM435 618h1v2h-1zM436 620h1v2h-1zM437 622h1v1h-1zM438 623h1v1h-1zM439 622h1v1h-1zM440 621h1v1h-1zM441 620h1v1h-1zM442 621h1v1h-1zM443 622h1v1h-1zM444 623h1v1h-1zM445 622h4v1h-4zM449 621h1v1h-1zM450 619h1v2h-1zM451 617h1v2h-1zM452 616h1v1h-1zM453 615h1v1h-1zM454 613h1v2h-1zM455 613h2v1h-2zM457 614h1v1h-1zM458 615h2v1h-2zM460 616h1v3h-1zM461 619h1v2h-1zM462 621h1v2h-1zM463 620h1v2h-1zM464 619h2v1h-2zM466 619h1v2h-1zM467 615h1v4h-1zM468 611h1v4h-1zM469 608h1v3h-1zM470 606h1v2h-1zM471 604h1v2h-1zM472 603h1v1h-1zM473 604h1v1h-1zM474 605h1v2h-1zM475 605h1v1h-1zM476 603h1v2h-1zM477 602h2v1h-2zM479 601h1v1h-1zM480 600h1v1h-1zM481 599h4v1h-4zM485 600h1v3h-1zM486 603h1v2h-1zM487 605h1v2h-1zM488 607h1v2h-1zM489 609h1v2h-1zM490 611h1v2h-1zM491 613h1v1h-1zM492 614h1v2h-1zM493 616h1v2h-1zM494 618h1v3h-1zM495 621h1v2h-1zM496 623h1v1h-1zM497 622h4v1h-4zM501 623h1v1h-1zM502 622h1v1h-1zM503 620h1v2h-1zM504 618h1v2h-1zM505 617h1v1h-1zM506 616h1v1h-1zM507 617h2v1h-2zM509 615h1v2h-1zM510 612h1v3h-1zM511 609h1v3h-1zM512 606h1v3h-1zM513 602h1v4h-1zM514 599h1v3h-1zM515 602h1v6h-1zM516 608h1v3h-1zM517 609h2v1h-2zM519 608h1v1h-1zM520 606h1v2h-1zM521 606h1v1h-1zM522 607h1v1h-1zM523 608h1v1h-1zM524 609h2v1h-2zM526 609h1v2h-1zM527 611h1v3h-1zM528 614h1v3h-1zM529 617h1v1h-1zM530 618h2v1h-2zM532 617h2v1h-2zM534 618h1v1h-1zM535 617h1v1h-1zM536 616h1v3h-1zM537 619h1v4h-1zM538 623h1v3h-1zM539 623h1v2h-1zM540 621h1v2h-1zM541 619h1v2h-1zM542 617h1v2h-1zM543 617h3v1h-3zM546 616h1v1h-1zM547 614h1v2h-1zM548 611h1v3h-1zM549 607h1v4h-1zM550 604h1v3h-1zM551 602h1v2h-1zM552 601h1v1h-1zM553 602h1v2h-1zM554 604h1v1h-1zM555 603h1v1h-1zM556 602h1v1h-1zM557 601h2v1h-2zM559 602h1v1h-1zM560 603h1v2h-1zM561 604h1v1h-1zM562 603h1v1h-1zM563 601h1v2h-1zM564 600h1v1h-1zM565 599h1v1h-1zM566 598h1v1h-1zM567 597h1v1h-1zM568 596h1v1h-1zM569 595h2v1h-2zM571 596h1v1h-1zM572 597h1v1h-1zM573 598h1v3h-1zM574 601h1v3h-1zM575 604h1v4h-1zM576 608h1v4h-1zM577 611h1v1h-1zM578 612h2v1h-2zM580 613h1v1h-1zM581 614h3v1h-3zM584 614h1v2h-1zM585 616h1v3h-1zM586 619h1v2h-1zM587 621h1v2h-1zM588 623h1v2h-1zM589 624h1v1h-1zM590 625h3v1h-3zM593 624h1v1h-1zM594 623h1v1h-1zM595 621h1v2h-1zM596 620h1v2h-1zM597 622h1v3h-1zM598 625h1v2h-1zM599 625h3v1h-3zM602 624h1v3h-1zM603 618h1v6h-1zM604 615h1v3h-1zM605 614h1v1h-1zM606 613h1v1h-1zM607 614h1v1h-1zM608 615h1v1h-1zM609 616h1v1h-1zM610 617h1v2h-1zM611 619h1v4h-1zM612 623h1v3h-1zM613 621h1v3h-1zM614 619h1v2h-1zM615 619h2v1h-2zM617 618h1v1h-1zM618 617h2v1h-2zM620 617h1v2h-1zM621 619h1v3h-1zM622 622h1v2h-1zM623 619h1v3h-1zM624 617h1v2h-1zM625 618h2v1h-2zM627 617h1v1h-1zM628 616h1v1h-1zM629 615h1v1h-1zM630 614h1v1h-1zM631 612h1v2h-1zM632 611h1v1h-1zM633 612h1v1h-1zM634 613h1v1h-1zM635 614h1v1h-1zM636 615h2v1h-2zM638 616h3v1h-3zM641 615h1v1h-1zM642 613h1v2h-1zM643 612h1v1h-1zM644 611h1v1h-1zM645 610h1v1h-1zM646 608h1v2h-1zM647 607h1v1h-1zM648 606h1v1h-1zM649 607h1v1h-1zM650 608h1v2h-1zM651 607h1v2h-1zM652 606h2v1h-2zM654 607h1v1h-1zM655 606h4v1h-4zM659 604h1v2h-1zM660 601h1v3h-1zM661 598h1v3h-1zM662 596h1v2h-1zM663 595h1v1h-1zM664 594h1v2h-1zM665 596h1v2h-1zM666 598h1v2h-1zM667 600h2v1h-2zM669 599h1v1h-1zM670 598h1v1h-1zM671 597h1v1h-1zM672 598h1v1h-1zM673 599h1v3h-1zM674 602h1v4h-1zM675 606h1v4h-1zM676 610h1v3h-1zM677 612h2v1h-2zM679 611h2v1h-2zM681 610h1v1h-1zM682 611h1v3h-1zM683 614h1v6h-1zM684 620h1v3h-1zM685 620h1v2h-1zM686 619h1v1h-1zM687 618h2v1h-2zM689 617h1v1h-1zM690 616h1v1h-1zM691 617h1v1h-1zM692 618h1v2h-1zM693 620h1v2h-1zM694 622h1v4h-1zM695 626h1v5h-1zM696 631h1v3h-1zM697 631h1v2h-1zM698 629h1v2h-1zM699 629h2v1h-2zM701 627h1v2h-1zM702 625h1v2h-1zM703 624h1v1h-1zM704 623h3v1h-3zM707 621h1v2h-1zM708 620h2v1h-2zM710 621h1v1h-1zM711 619h1v2h-1zM712 618h1v1h-1zM713 617h1v1h-1zM714 616h1v1h-1zM715 614h1v2h-1zM716 613h1v1h-1zM717 612h1v1h-1zM718 612h1v2h-1zM719 614h1v2h-1zM720 616h1v2h-1zM721 618h1v1h-1zM722 619h1v1h-1zM723 620h1v2h-1zM724 622h1v1h-1zM725 620h1v2h-1zM726 619h1v1h-1zM727 618h1v1h-1zM728 619h1v1h-1zM729 620h1v1h-1zM730 621h1v2h-1zM731 622h1v1h-1zM732 623h1v1h-1zM733 621h1v2h-1zM734 619h1v2h-1zM735 617h1v2h-1zM736 615h1v2h-1zM737 614h2v1h-2zM739 612h1v2h-1zM740 612h1v1h-1zM741 613h1v2h-1zM742 615h1v2h-1zM743 617h1v2h-1zM744 619h1v1h-1zM745 620h1v2h-1zM746 622h3v1h-3zM749 619h1v3h-1zM750 617h1v2h-1zM751 619h1v2h-1zM752 621h1v2h-1zM753 622h3v1h-3zM756 623h1v1h-1zM757 622h1v1h-1zM758 621h1v1h-1zM759 619h1v2h-1zM760 617h1v2h-1zM761 617h1v1h-1zM762 618h2v1h-2zM764 619h2v1h-2zM766 618h1v3h-1zM767 614h1v4h-1zM768 611h1v3h-1zM769 610h1v1h-1zM770 609h1v1h-1zM771 608h1v1h-1zM772 609h1v1h-1zM773 610h1v3h-1zM774 613h1v2h-1zM775 614h2v1h-2zM777 615h1v2h-1zM778 617h1v2h-1zM779 619h1v2h-1zM780 621h1v2h-1zM781 623h1v2h-1zM782 625h1v3h-1zM783 628h1v2h-1zM784 630h1v2h-1zM785 630h1v1h-1zM786 629h1v1h-1zM787 630h1v1h-1zM788 631h1v2h-1zM789 633h1v3h-1zM790 636h1v2h-1zM791 632h1v4h-1zM792 629h1v3h-1zM793 627h1v2h-1zM794 626h1v1h-1zM795 625h2v1h-2zM797 624h2v1h-2zM799 625h1v1h-1zM800 626h1v1h-1zM801 625h1v1h-1zM802 624h1v1h-1zM803 621h1v3h-1zM804 619h1v2h-1zM805 620h1v2h-1zM806 622h1v1h-1zM807 623h1v2h-1zM808 625h1v1h-1zM809 623h1v2h-1zM810 620h1v3h-1zM811 618h1v2h-1zM812 616h1v2h-1zM813 616h2v1h-2zM815 617h1v2h-1zM816 619h1v2h-1zM817 621h1v2h-1zM818 623h3v1h-3zM821 624h1v2h-1zM822 626h1v1h-1zM823 627h1v2h-1zM824 629h1v2h-1zM825 631h1v2h-1zM826 633h1v2h-1zM827 631h1v3h-1zM828 627h1v4h-1zM829 622h1v5h-1zM830 619h1v3h-1zM831 619h2v1h-2zM833 617h1v2h-1zM834 616h1v1h-1zM835 615h3v1h-3zM838 615h1v3h-1zM839 618h1v5h-1zM840 623h1v3h-1zM841 626h1v1h-1zM842 627h1v1h-1zM843 628h1v1h-1zM844 629h3v1h-3zM847 628h3v1h-3zM850 629h1v1h-1zM851 630h1v1h-1zM852 631h1v2h-1zM853 632h2v1h-2zM855 630h1v2h-1zM856 628h1v2h-1zM857 628h1v1h-1zM858 629h3v1h-3zM861 630h1v1h-1zM862 631h1v2h-1zM863 633h1v1h-1zM864 634h1v2h-1zM865 632h1v2h-1zM866 630h1v2h-1zM867 630h1v1h-1zM868 631h1v1h-1zM869 630h1v1h-1zM870 629h1v2h-1zM871 627h1v2h-1zM872 624h1v3h-1zM873 621h1v3h-1zM874 618h1v3h-1zM875 618h1v1h-1zM876 617h3v1h-3zM879 616h1v1h-1zM880 615h1v1h-1zM881 614h1v1h-1zM882 612h1v2h-1zM883 611h2v1h-2zM885 612h1v1h-1zM886 613h1v2h-1zM887 615h1v1h-1zM888 616h1v2h-1zM889 615h1v2h-1zM890 614h1v1h-1zM891 615h1v2h-1zM892 617h3v1h-3zM895 616h1v1h-1zM896 616h1v2h-1zM897 618h1v3h-1zM898 621h1v3h-1zM899 624h1v3h-1zM900 627h1v2h-1zM901 624h1v3h-1zM902 622h1v2h-1zM903 623h4v1h-4zM907 620h1v3h-1zM908 618h1v2h-1zM909 619h1v1h-1zM910 620h1v3h-1zM911 623h1v6h-1zM912 629h1v4h-1zM913 633h1v2h-1zM914 635h1v2h-1zM915 637h1v1h-1zM916 638h3v1h-3zM919 637h1v1h-1zM920 636h1v1h-1zM921 637h1v1h-1zM922 636h1v2h-1zM923 633h1v3h-1zM924 628h1v5h-1zM925 620h1v8h-1zM926 616h1v4h-1zM927 617h1v2h-1z" fill="#1e90ff"/>
<path d="M4 272h1v1h-1zM5 273h1v2h-1zM6 275h1v1h-1zM7 276h1v1h-1zM8 277h1v1h-1zM9 278h1v1h-1zM10 279h1v2h-1zM11 281h1v1h-1zM12 282h2v1h-2zM14 283h1v1h-1zM15 284h1v1h-1zM16 285h1v1h-1zM17 286h2v1h-2zM19 287h1v1h-1zM20 288h1v1h-1zM21 289h1v1h-1zM22 290h1v2h-1zM23 292h1v1h-1zM24 293h1v1h-1zM25 294h1v1h-1zM26 295h1v1h-1zM27 296h1v1h-1zM28 297h2v1h-2zM30 296h2v1h-2zM32 295h1v1h-1zM33 294h2v1h-2zM35 293h1v1h-1zM36 292h1v1h-1zM37 291h2v1h-2zM39 290h4v1h-4zM43 289h2v1h-2zM45 288h2v1h-2zM47 287h1v1h-1zM48 286h1v1h-1zM49 285h1v1h-1zM50 283h1v2h-1zM51 282h1v1h-1zM52 281h1v1h-1zM53 280h1v1h-1zM54 279h1v1h-1zM55 278h1v1h-1zM56 277h1v1h-1zM57 276h2v1h-2zM59 275h1v1h-1zM60 274h1v1h-1zM61 273h2v1h-2zM63 272h9v1h-9zM72 271h6v1h-6zM78 270h4v1h-4zM82 269h1v1h-1zM83 268h1v1h-1zM84 267h1v1h-1zM85 266h1v1h-1zM86 265h1v1h-1zM87 264h1v1h-1zM88 263h1v1h-1zM89 262h1v1h-1zM90 261h2v1h-2zM92 260h6v1h-6zM98 261h2v1h-2zM100 262h3v1h-3zM103 263h2v1h-2zM105 264h2v1h-2zM107 265h2v1h-2zM109 266h1v1h-1zM110 267h1v1h-1zM111 268h1v1h-1zM112 269h1v1h-1zM113 270h1v1h-1zM114 271h2v1h-2zM116 272h2v1h-2zM118 273h1v1h-1zM119 274h1v1h-1zM120 275h1v1h-1zM121 276h1v1h-1zM122 277h1v2h-1zM123 279h1v1h-1zM124 280h1v2h-1zM125 282h1v1h-1zM126 283h1v2h-1zM127 285h1v2h-1zM128 287h1v1h-1zM129 288h1v2h-1zM130 290h1v2h-1zM131 292h1v2h-1zM132 294h1v2h-1zM133 296h1v2h-1zM134 298h1v2h-1zM135 300h1v2h-1zM136 302h1v2h-1zM137 304h1v2h-1zM138 306h1v2h-1zM139 308h1v2h-1zM140 310h1v3h-1zM141 313h1v2h-1zM142 315h1v1h-1zM143 316h1v2h-1zM144 318h1v1h-1zM145 319h1v2h-1zM146 321h1v1h-1zM147 322h1v2h-1zM148 324h1v2h-1zM149 326h1v1h-1zM150 327h1v2h-1zM151 329h1v2h-1zM152 331h1v2h-1zM153 333h1v2h-1zM154 335h1v2h-1zM155 337h1v3h-1zM156 340h1v2h-1zM157 342h1v2h-1zM158 344h1v2h-1zM159 346h1v3h-1zM160 349h1v2h-1zM161 351h1v2h-1zM162 353h1v3h-1zM163 356h1v2h-1zM164 358h1v3h-1zM165 361h1v2h-1zM166 363h1v3h-1zM167 366h1v2h-1zM168 368h1v2h-1zM169 370h1v3h-1zM170 373h1v2h-1zM171 375h1v2h-1zM172 377h1v2h-1zM173 379h1v2h-1zM174 381h1v3h-1zM175 384h1v2h-1zM176 386h1v2h-1zM177 388h1v2h-1zM178 390h1v2h-1zM179 392h1v1h-1zM180 393h1v1h-1zM181 394h1v2h-1zM182 396h1v1h-1zM183 397h1v2h-1zM184 399h1v1h-1zM185 400h1v2h-1zM186 402h1v1h-1zM187 403h1v2h-1zM188 405h1v1h-1zM189 406h1v1h-1zM190 407h1v1h-1zM191 408h1v2h-1zM192 410h1v1h-1zM193 411h1v1h-1zM194 412h1v1h-1zM195 413h1v2h-1zM196 415h1v1h-1zM197 416h1v2h-1zM198 418h1v1h-1zM199 419h1v1h-1zM200 420h1v1h-1zM201 421h1v1h-1zM202 422h1v1h-1zM203 421h2v1h-2zM205 420h1v1h-1zM206 419h2v1h-2zM208 418h1v1h-1zM209 417h1v1h-1zM210 416h1v1h-1zM211 415h1v1h-1zM212 413h1v2h-1zM213 411h1v2h-1zM214 410h1v1h-1zM215 408h1v2h-1zM216 405h1v3h-1zM217 403h1v2h-1zM218 401h1v2h-1zM219 399h1v2h-1zM220 397h1v2h-1zM221 395h1v2h-1zM222 392h1v3h-1zM223 390h1v2h-1zM224 388h1v2h-1zM225 385h1v3h-1zM226 383h1v2h-1zM227 381h1v2h-1zM228 378h1v3h-1zM229 376h1v2h-1zM230 373h1v3h-1zM231 370h1v3h-1zM232 368h1v2h-1zM233 365h1v3h-1zM234 362h1v3h-1zM235 359h1v3h-1zM236 357h1v2h-1zM237 354h1v3h-1zM238 351h1v3h-1zM239 349h1v2h-1zM240 346h1v3h-1zM241 344h1v2h-1zM242 341h1v3h-1zM243 338h1v3h-1zM244 336h1v2h-1zM245 333h1v3h-1zM246 330h1v3h-1zM247 328h1v2h-1zM248 325h1v3h-1zM249 322h1v3h-1zM250 318h1v4h-1zM251 315h1v3h-1zM252 312h1v3h-1zM253 309h1v3h-1zM254 306h1v3h-1zM255 303h1v3h-1zM256 301h1v2h-1zM257 298h1v3h-1zM258 296h1v2h-1zM259 293h1v3h-1zM260 291h1v2h-1zM261 289h1v2h-1zM262 287h1v2h-1zM263 284h1v3h-1zM264 282h1v2h-1zM265 281h1v1h-1zM266 279h1v2h-1zM267 278h1v1h-1zM268 276h1v2h-1zM269 275h1v1h-1zM270 273h1v2h-1zM271 273h1v1h-1zM272 272h1v1h-1zM273 271h1v1h-1zM274 270h1v1h-1zM275 269h1v1h-1zM276 268h2v1h-2zM278 267h1v1h-1zM279 266h1v1h-1zM280 265h1v1h-1zM281 264h6v1h-6zM287 265h3v1h-3zM290 266h3v1h-3zM293 267h2v1h-2zM295 268h1v1h-1zM296 269h2v1h-2zM298 270h1v1h-1zM299 271h2v1h-2zM301 272h2v1h-2zM303 273h2v1h-2zM305 274h2v1h-2zM307 275h2v1h-2zM309 276h1v1h-1zM310 277h1v1h-1zM311 278h1v1h-1zM312 279h1v1h-1zM313 280h1v1h-1zM314 281h1v1h-1zM315 282h1v1h-1zM316 283h1v1h-1zM317 284h2v1h-2zM319 285h1v1h-1zM320 286h2v1h-2zM322 287h1v1h-1zM323 288h2v1h-2zM325 289h1v1h-1zM326 290h2v1h-2zM328 291h1v1h-1zM329 292h1v1h-1zM330 293h1v1h-1zM331 294h1v1h-1zM332 295h1v1h-1zM333 296h1v1h-1zM334 297h1v1h-1zM335 298h1v1h-1zM336 299h1v2h-1zM337 301h1v1h-1zM338 302h1v1h-1zM339 303h1v2h-1zM340 305h1v1h-1zM341 306h1v1h-1zM342 307h1v1h-1zM343 308h1v1h-1zM344 309h2v1h-2zM346 310h1v1h-1zM347 311h1v1h-1zM348 312h2v1h-2zM350 313h2v1h-2zM352 314h1v1h-1zM353 313h2v1h-2zM355 312h3v1h-3zM358 311h7v1h-7zM365 310h3v1h-3zM368 309h2v1h-2zM370 308h2v1h-2zM372 307h3v1h-3zM375 306h3v1h-3zM378 305h3v1h-3zM381 304h3v1h-3zM384 305h1v1h-1zM385 306h1v1h-1zM386 307h1v1h-1zM387 308h1v1h-1zM388 309h1v1h-1zM389 310h1v1h-1zM390 311h2v1h-2zM392 312h2v1h-2zM394 313h2v1h-2zM396 314h8v1h-8zM404 315h1v1h-1zM405 316h1v1h-1zM406 317h3v1h-3zM409 318h4v1h-4zM413 317h2v1h-2zM415 316h1v1h-1zM416 315h2v1h-2zM418 314h2v1h-2zM420 313h3v1h-3zM423 312h4v1h-4zM427 311h3v1h-3zM430 310h3v1h-3zM433 309h13v1h-13zM446 310h2v1h-2zM448 311h6v1h-6zM454 312h4v1h-4zM458 313h5v1h-5zM463 314h3v1h-3zM466 313h2v1h-2zM468 312h2v1h-2zM470 310h1v2h-1zM471 309h1v1h-1zM472 308h1v1h-1zM473 307h2v1h-2zM475 306h1v1h-1zM476 305h1v1h-1zM477 304h1v1h-1zM478 303h1v1h-1zM479 302h1v1h-1zM480 301h2v1h-2zM482 300h1v1h-1zM483 299h1v1h-1zM484 298h1v1h-1zM485 297h1v1h-1zM486 296h1v1h-1zM487 295h1v1h-1zM488 294h1v1h-1zM489 293h4v1h-4zM493 292h9v1h-9zM502 291h5v1h-5zM507 290h2v1h-2zM509 289h1v1h-1zM510 288h2v1h-2zM512 287h1v1h-1zM513 286h1v1h-1zM514 285h1v1h-1zM515 284h1v1h-1zM516 283h1v1h-1zM517 281h1v2h-1zM518 280h1v1h-1zM519 279h1v1h-1zM520 278h1v1h-1zM521 277h1v1h-1zM522 275h1v2h-1zM523 274h1v1h-1zM524 273h1v1h-1zM525 272h1v1h-1zM526 271h1v1h-1zM527 270h1v1h-1zM528 269h1v1h-1zM529 268h1v1h-1zM530 267h1v1h-1zM531 266h1v1h-1zM532 265h4v1h-4zM536 264h1v1h-1zM537 263h1v1h-1zM538 262h2v1h-2zM540 261h1v1h-1zM541 260h2v1h-2zM543 259h1v1h-1zM544 258h2v1h-2zM546 257h1v1h-1zM547 256h1v1h-1zM548 255h1v1h-1zM549 254h2v1h-2zM551 253h1v1h-1zM552 252h1v1h-1zM553 251h1v1h-1zM554 250h1v1h-1zM555 249h1v1h-1zM556 248h1v1h-1zM557 247h1v1h-1zM558 246h1v1h-1zM559 245h1v1h-1zM560 244h1v1h-1zM561 243h1v1h-1zM562 242h1v1h-1zM563 241h1v1h-1zM564 240h1v1h-1zM565 239h1v1h-1zM566 237h1v2h-1zM567 235h1v2h-1zM568 233h1v2h-1zM569 231h1v2h-1zM570 229h1v2h-1zM571 227h1v2h-1zM572 225h1v2h-1zM573 223h1v2h-1zM574 221h1v2h-1zM575 219h1v2h-1zM576 217h1v2h-1zM577 216h1v1h-1zM578 214h1v2h-1zM579 213h1v1h-1zM580 211h1v2h-1zM581 210h1v1h-1zM582 208h1v2h-1zM583 206h1v2h-1zM584 205h1v1h-1zM585 204h1v1h-1zM586 203h1v1h-1zM587 202h1v1h-1zM588 201h2v1h-2zM590 200h2v1h-2zM592 199h2v1h-2zM594 198h4v1h-4zM598 197h4v1h-4zM602 196h1v1h-1zM603 195h2v1h-2zM605 194h1v1h-1zM606 193h2v1h-2zM608 192h1v1h-1zM609 191h2v1h-2zM611 190h1v1h-1zM612 189h2v1h-2zM614 188h1v1h-1zM615 187h1v1h-1zM616 186h1v1h-1zM617 185h1v1h-1zM618 184h1v1h-1zM619 183h2v1h-2zM621 182h1v1h-1zM622 181h1v1h-1zM623 180h2v1h-2zM625 179h1v1h-1zM626 178h3v1h-3zM629 177h10v1h-10zM639 178h4v1h-4zM643 179h3v1h-3zM646 180h2v1h-2zM648 181h2v1h-2zM650 182h2v1h-2zM652 183h2v1h-2zM654 184h1v1h-1zM655 183h3v1h-3zM658 182h2v1h-2zM660 181h1v1h-1zM661 180h1v1h-1zM662 179h1v1h-1zM663 177h1v2h-1zM664 176h1v1h-1zM665 175h1v1h-1zM666 174h1v1h-1zM667 172h1v2h-1zM668 171h1v1h-1zM669 170h1v1h-1zM670 168h1v2h-1zM671 167h1v1h-1zM672 165h1v2h-1zM673 164h1v1h-1zM674 162h1v2h-1zM675 161h1v1h-1zM676 159h1v2h-1zM677 158h1v1h-1zM678 157h1v1h-1zM679 155h1v2h-1zM680 154h1v1h-1zM681 152h1v2h-1zM682 151h1v1h-1zM683 150h1v1h-1zM684 149h1v1h-1zM685 148h2v1h-2zM687 147h2v1h-2zM689 146h1v1h-1zM690 145h1v1h-1zM691 144h2v1h-2zM693 143h7v1h-7zM700 142h4v1h-4zM704 141h4v1h-4zM708 140h3v1h-3zM711 139h2v1h-2zM713 138h3v1h-3zM716 137h2v1h-2zM718 136h2v1h-2zM720 135h11v1h-11zM731 136h3v1h-3zM734 137h8v1h-8zM742 138h1v1h-1zM743 139h1v1h-1zM744 140h1v1h-1zM745 141h1v1h-1zM746 142h1v2h-1zM747 144h1v1h-1zM748 145h1v1h-1zM749 146h1v1h-1zM750 147h1v1h-1zM751 148h1v1h-1zM752 149h1v1h-1zM753 150h1v1h-1zM754 151h1v1h-1zM755 152h2v1h-2zM757 153h1v1h-1zM758 154h1v1h-1zM759 155h2v1h-2zM761 156h2v1h-2zM763 157h2v1h-2zM765 158h3v1h-3zM768 159h4v1h-4zM772 158h2v1h-2zM774 157h2v1h-2zM776 156h2v1h-2zM778 155h6v1h-6zM784 156h3v1h-3zM787 157h1v1h-1zM788 158h2v1h-2zM790 159h1v1h-1zM791 160h1v1h-1zM792 161h1v1h-1zM793 162h1v1h-1zM794 163h1v1h-1zM795 164h1v1h-1zM796 165h1v1h-1zM797 166h1v1h-1zM798 167h1v1h-1zM799 168h2v1h-2zM801 169h2v1h-2zM803 170h2v1h-2zM805 171h1v1h-1zM806 172h2v1h-2zM808 173h1v1h-1zM809 174h2v1h-2zM811 175h4v1h-4zM815 176h1v1h-1zM816 177h1v1h-1zM817 178h1v1h-1zM818 179h1v1h-1zM819 180h1v1h-1zM820 181h1v1h-1zM821 182h1v1h-1zM822 183h1v1h-1zM823 184h1v1h-1zM824 185h1v1h-1zM825 186h1v1h-1zM826 187h1v1h-1zM827 188h1v1h-1zM828 189h1v1h-1zM829 190h1v1h-1zM830 191h1v1h-1zM831 192h2v1h-2zM833 193h2v1h-2zM835 194h2v1h-2zM837 195h2v1h-2zM839 196h1v1h-1zM840 197h1v2h-1zM841 199h1v1h-1zM842 200h1v1h-1zM843 201h1v1h-1zM844 202h1v1h-1zM845 203h1v2h-1zM846 205h1v1h-1zM847 206h1v1h-1zM848 207h1v1h-1zM849 208h1v2h-1zM850 210h1v2h-1zM851 212h1v2h-1zM852 214h1v2h-1zM853 216h1v2h-1zM854 218h1v2h-1zM855 220h1v2h-1zM856 222h1v2h-1zM857 224h1v2h-1zM858 226h1v1h-1zM859 227h1v1h-1zM860 228h1v2h-1zM861 230h1v1h-1zM862 231h1v2h-1zM863 233h1v1h-1zM864 234h1v1h-1zM865 235h1v2h-1zM866 237h1v1h-1zM867 238h1v1h-1zM868 239h1v1h-1zM869 240h2v1h-2zM871 241h2v1h-2zM873 242h1v1h-1zM874 243h2v1h-2zM876 244h2v1h-2zM878 245h2v1h-2zM880 246h2v1h-2zM882 247h2v1h-2zM884 248h2v1h-2zM886 249h1v1h-1zM887 250h2v1h-2zM889 251h1v1h-1zM890 252h1v1h-1zM891 253h2v1h-2zM893 254h1v1h-1zM894 255h1v1h-1zM895 256h2v1h-2zM897 257h1v1h-1zM898 258h2v1h-2zM900 259h1v1h-1zM901 260h1v1h-1zM902 261h4v1h-4zM906 262h4v1h-4zM910 263h1v2h-1zM911 265h1v1h-1zM912 266h1v1h-1zM913 267h1v1h-1zM914 268h1v2h-1zM915 270h1v2h-1zM916 272h1v1h-1zM917 273h1v2h-1zM918 275h1v2h-1zM919 277h1v2h-1zM920 279h1v1h-1zM921 280h1v2h-1zM922 282h1v1h-1zM923 283h1v1h-1zM924 284h4v1h-4z" fill="#ffff00"/>
<path d="M4 301h5v1h-5zM9 302h1v1h-1zM10 303h1v1h-1zM11 302h1v1h-1zM12 301h1v1h-1zM13 300h2v1h-2zM15 299h2v1h-2zM17 298h1v1h-1zM18 297h1v1h-1zM19 296h1v1h-1zM20 295h1v1h-1zM21 294h1v1h-1zM22 293h1v1h-1zM23 292h1v1h-1zM24 290h1v2h-1zM25 289h1v1h-1zM26 287h1v2h-1zM27 286h1v1h-1zM28 285h1v1h-1zM29 284h1v1h-1zM30 283h2v1h-2zM32 282h1v1h-1zM33 281h1v1h-1zM34 280h4v1h-4zM38 281h2v1h-2zM40 280h2v1h-2zM42 279h1v1h-1zM43 278h2v1h-2zM45 277h1v1h-1zM46 275h1v2h-1zM47 274h1v1h-1zM48 272h1v2h-1zM49 271h1v1h-1zM50 269h1v2h-1zM51 266h1v3h-1zM52 263h1v3h-1zM53 261h1v2h-1zM54 260h1v1h-1zM55 259h1v1h-1zM56 258h1v1h-1zM57 257h1v1h-1zM58 256h1v1h-1zM59 255h3v1h-3zM62 256h4v1h-4zM66 257h3v1h-3zM69 258h2v1h-2zM71 259h1v1h-1zM72 260h1v1h-1zM73 261h3v1h-3zM76 262h3v1h-3zM79 261h1v1h-1zM80 260h1v1h-1zM81 259h2v1h-2zM83 258h1v1h-1zM84 257h1v1h-1zM85 256h2v1h-2zM87 255h4v1h-4zM91 256h1v1h-1zM92 257h1v1h-1zM93 258h1v1h-1zM94 259h1v1h-1zM95 260h1v1h-1zM96 261h1v2h-1zM97 263h1v2h-1zM98 265h1v2h-1zM99 267h1v2h-1zM100 269h1v1h-1zM101 270h1v1h-1zM102 271h1v1h-1zM103 272h2v1h-2zM105 273h3v1h-3zM108 274h1v1h-1zM109 275h1v1h-1zM110 276h1v1h-1zM111 277h1v1h-1zM112 278h2v1h-2zM114 279h1v1h-1zM115 280h1v2h-1zM116 282h1v1h-1zM117 283h1v1h-1zM118 284h1v1h-1zM119 285h1v2h-1zM120 287h1v2h-1zM121 289h1v2h-1zM122 291h1v2h-1zM123 293h1v3h-1zM124 296h1v2h-1zM125 298h1v3h-1zM126 301h1v3h-1zM127 304h1v3h-1zM128 307h1v3h-1zM129 310h1v3h-1zM130 313h1v4h-1zM131 317h1v3h-1zM132 320h1v3h-1zM133 323h1v4h-1zM134 327h1v4h-1zM135 331h1v4h-1zM136 335h1v3h-1zM137 338h1v4h-1zM138 342h1v4h-1zM139 346h1v3h-1zM140 349h1v3h-1zM141 352h1v3h-1zM142 355h1v3h-1zM143 358h1v2h-1zM144 360h1v3h-1zM145 363h1v3h-1zM146 366h1v3h-1zM147 369h1v2h-1zM148 371h1v3h-1zM149 374h1v2h-1zM150 376h1v3h-1zM151 379h1v3h-1zM152 382h1v2h-1zM153 384h1v3h-1zM154 387h1v3h-1zM155 390h1v3h-1zM156 393h1v3h-1zM157 396h1v3h-1zM158 399h1v3h-1zM159 402h1v3h-1zM160 405h1v3h-1zM161 408h1v3h-1zM162 411h1v2h-1zM163 413h1v3h-1zM164 416h1v2h-1zM165 418h1v2h-1zM166 420h1v1h-1zM167 421h1v2h-1zM168 423h1v1h-1zM169 424h1v2h-1zM170 426h1v1h-1zM171 427h1v1h-1zM172 428h1v1h-1zM173 429h1v1h-1zM174 430h1v2h-1zM175 432h1v1h-1zM176 433h2v1h-2zM178 434h2v1h-2zM180 435h1v1h-1zM181 436h5v1h-5zM186 435h4v1h-4zM190 434h2v1h-2zM192 433h3v1h-3zM195 432h3v1h-3zM198 431h1v1h-1zM199 430h1v1h-1zM200 428h1v2h-1zM201 427h1v1h-1zM202 426h1v1h-1zM203 424h1v2h-1zM204 422h1v2h-1zM205 420h1v2h-1zM206 417h1v3h-1zM207 414h1v3h-1zM208 410h1v4h-1zM209 407h1v3h-1zM210 403h1v4h-1zM211 400h1v3h-1zM212 396h1v4h-1zM213 393h1v3h-1zM214 389h1v4h-1zM215 385h1v4h-1zM216 380h1v5h-1zM217 376h1v4h-1zM218 371h1v5h-1zM219 367h1v4h-1zM220 362h1v5h-1zM221 358h1v4h-1zM222 353h1v5h-1zM223 346h1v7h-1zM224 341h1v5h-1zM225 337h1v4h-1zM226 333h1v4h-1zM227 330h1v3h-1zM228 326h1v4h-1zM229 322h1v4h-1zM230 317h1v5h-1zM231 313h1v4h-1zM232 308h1v5h-1zM233 303h1v5h-1zM234 298h1v5h-1zM235 293h1v5h-1zM236 288h1v5h-1zM237 283h1v5h-1zM238 278h1v5h-1zM239 273h1v5h-1zM240 268h1v5h-1zM241 265h1v3h-1zM242 262h1v3h-1zM243 258h1v4h-1zM244 255h1v3h-1zM245 252h1v3h-1zM246 250h1v2h-1zM247 248h1v2h-1zM248 246h1v2h-1zM249 243h1v3h-1zM250 241h1v2h-1zM251 239h1v2h-1zM252 237h1v2h-1zM253 235h1v2h-1zM254 233h1v2h-1zM255 231h1v2h-1zM256 230h1v1h-1zM257 229h1v1h-1zM258 228h1v1h-1zM259 227h1v1h-1zM260 226h1v1h-1zM261 225h1v1h-1zM262 224h2v1h-2zM264 225h1v2h-1zM265 227h1v1h-1zM266 228h1v1h-1zM267 229h1v2h-1zM268 231h1v2h-1zM269 233h1v1h-1zM270 234h1v2h-1zM271 236h1v2h-1zM272 238h1v2h-1zM273 240h1v2h-1zM274 242h1v3h-1zM275 245h1v3h-1zM276 248h1v3h-1zM277 251h1v3h-1zM278 254h1v4h-1zM279 258h1v3h-1zM280 261h1v4h-1zM281 265h1v2h-1zM282 267h1v3h-1zM283 270h1v2h-1zM284 272h1v3h-1zM285 275h1v2h-1zM286 277h1v3h-1zM287 280h1v3h-1zM288 283h1v3h-1zM289 286h1v2h-1zM290 288h1v2h-1zM291 290h1v2h-1zM292 292h1v2h-1zM293 294h1v2h-1zM294 296h1v3h-1zM295 299h1v3h-1zM296 302h1v3h-1zM297 305h1v3h-1zM298 308h1v3h-1zM299 311h1v2h-1zM300 313h1v2h-1zM301 315h1v2h-1zM302 317h1v1h-1zM303 318h1v1h-1zM304 319h1v1h-1zM305 320h1v1h-1zM306 319h2v1h-2zM308 318h2v1h-2zM310 317h1v1h-1zM311 316h3v1h-3zM314 315h2v1h-2zM316 313h1v2h-1zM317 311h1v2h-1zM318 309h1v2h-1zM319 308h1v1h-1zM320 307h1v1h-1zM321 306h1v1h-1zM322 304h1v2h-1zM323 303h1v1h-1zM324 302h1v1h-1zM325 301h1v1h-1zM326 299h1v2h-1zM327 297h1v2h-1zM328 296h1v1h-1zM329 294h1v2h-1zM330 293h1v1h-1zM331 292h2v1h-2zM333 291h3v1h-3zM336 292h4v1h-4zM340 293h3v1h-3zM343 294h1v1h-1zM344 295h1v1h-1zM345 296h1v2h-1zM346 298h1v1h-1zM347 299h1v3h-1zM348 302h1v3h-1zM349 305h1v2h-1zM350 307h2v1h-2zM352 308h1v1h-1zM353 309h2v1h-2zM355 310h1v1h-1zM356 311h1v1h-1zM357 312h1v1h-1zM358 313h1v1h-1zM359 314h1v2h-1zM360 316h1v1h-1zM361 317h1v1h-1zM362 318h1v1h-1zM363 319h1v1h-1zM364 320h1v1h-1zM365 321h1v1h-1zM366 322h1v1h-1zM367 323h2v1h-2zM369 324h3v1h-3zM372 323h2v1h-2zM374 322h2v1h-2zM376 321h1v1h-1zM377 320h1v1h-1zM378 319h1v1h-1zM379 318h1v1h-1zM380 317h1v1h-1zM381 316h1v1h-1zM382 315h1v1h-1zM383 314h1v1h-1zM384 313h2v1h-2zM386 314h2v1h-2zM388 315h2v1h-2zM390 316h2v1h-2zM392 315h3v1h-3zM395 314h2v1h-2zM397 313h1v1h-1zM398 312h1v1h-1zM399 311h2v1h-2zM401 310h1v1h-1zM402 309h15v1h-15zM417 310h2v1h-2zM419 311h1v1h-1zM420 312h3v1h-3zM423 313h4v1h-4zM427 312h2v1h-2zM429 311h1v1h-1zM430 310h1v1h-1zM431 309h1v1h-1zM432 307h1v2h-1zM433 306h1v1h-1zM434 305h5v1h-5zM439 306h1v1h-1zM440 307h1v1h-1zM441 308h1v1h-1zM442 309h1v1h-1zM443 310h2v1h-2zM445 311h1v1h-1zM446 312h3v1h-3zM449 311h7v1h-7zM456 312h2v1h-2zM458 313h2v1h-2zM460 314h9v1h-9zM469 313h1v1h-1zM470 312h1v1h-1zM471 311h1v1h-1zM472 310h1v1h-1zM473 309h1v1h-1zM474 308h1v1h-1zM475 307h1v1h-1zM476 305h1v2h-1zM477 303h1v2h-1zM478 302h1v1h-1zM479 300h1v2h-1zM480 297h1v3h-1zM481 295h1v2h-1zM482 293h1v2h-1zM483 290h1v3h-1zM484 288h1v2h-1zM485 286h1v2h-1zM486 284h1v2h-1zM487 281h1v3h-1zM488 279h1v2h-1zM489 277h1v2h-1zM490 276h2v1h-2zM492 275h1v1h-1zM493 274h3v1h-3zM496 273h5v1h-5zM501 272h1v1h-1zM502 271h2v1h-2zM504 270h1v1h-1zM505 269h1v1h-1zM506 268h1v1h-1zM507 267h1v1h-1zM508 266h1v1h-1zM509 265h1v1h-1zM510 264h1v1h-1zM511 263h1v1h-1zM512 262h1v1h-1zM513 261h2v1h-2zM515 260h1v1h-1zM516 259h2v1h-2zM518 258h5v1h-5zM523 257h3v1h-3zM526 258h10v1h-10zM536 257h1v1h-1zM537 256h2v1h-2zM539 255h1v1h-1zM540 254h2v1h-2zM542 253h2v1h-2zM544 252h2v1h-2zM546 251h2v1h-2zM548 249h1v2h-1zM549 247h1v2h-1zM550 245h1v2h-1zM551 242h1v3h-1zM552 240h1v2h-1zM553 238h1v2h-1zM554 237h1v1h-1zM555 236h1v1h-1zM556 234h1v2h-1zM557 233h1v1h-1zM558 232h1v1h-1zM559 231h1v1h-1zM560 229h1v2h-1zM561 228h1v1h-1zM562 226h1v2h-1zM563 224h1v2h-1zM564 221h1v3h-1zM565 218h1v3h-1zM566 215h1v3h-1zM567 212h1v3h-1zM568 208h1v4h-1zM569 204h1v4h-1zM570 201h1v3h-1zM571 197h1v4h-1zM572 194h1v3h-1zM573 191h1v3h-1zM574 189h1v2h-1zM575 187h1v2h-1zM576 184h1v3h-1zM577 182h1v2h-1zM578 179h1v3h-1zM579 176h1v3h-1zM580 174h1v2h-1zM581 172h1v2h-1zM582 170h1v2h-1zM583 167h1v3h-1zM584 165h1v2h-1zM585 163h1v2h-1zM586 161h1v2h-1zM587 160h1v1h-1zM588 159h1v1h-1zM589 158h1v1h-1zM590 157h1v1h-1zM591 158h2v1h-2zM593 159h3v1h-3zM596 160h1v1h-1zM597 161h1v1h-1zM598 162h1v2h-1zM599 164h1v1h-1zM600 165h1v2h-1zM601 167h1v1h-1zM602 168h2v1h-2zM604 169h2v1h-2zM606 170h2v1h-2zM608 171h1v2h-1zM609 173h1v2h-1zM610 175h1v2h-1zM611 177h1v3h-1zM612 180h1v2h-1zM613 182h1v3h-1zM614 185h1v2h-1zM615 187h1v2h-1zM616 189h1v2h-1zM617 191h1v1h-1zM618 192h1v1h-1zM619 193h1v2h-1zM620 195h1v1h-1zM621 196h1v1h-1zM622 197h1v1h-1zM623 198h1v1h-1zM624 199h1v1h-1zM625 200h1v1h-1zM626 201h3v1h-3zM629 200h1v1h-1zM630 199h1v1h-1zM631 198h1v1h-1zM632 197h1v1h-1zM633 196h1v1h-1zM634 195h2v1h-2zM636 194h2v1h-2zM638 193h2v1h-2zM640 192h1v1h-1zM641 191h1v1h-1zM642 190h1v1h-1zM643 189h1v1h-1zM644 188h1v1h-1zM645 187h1v1h-1zM646 186h2v1h-2zM648 185h1v1h-1zM649 184h1v1h-1zM650 183h1v1h-1zM651 182h1v1h-1zM652 180h1v2h-1zM653 179h1v1h-1zM654 177h1v2h-1zM655 176h1v1h-1zM656 174h1v2h-1zM657 173h1v1h-1zM658 171h1v2h-1zM659 170h1v1h-1zM660 167h1v3h-1zM661 165h1v2h-1zM662 162h1v3h-1zM663 159h1v3h-1zM664 156h1v3h-1zM665 153h1v3h-1zM666 150h1v3h-1zM667 147h1v3h-1zM668 144h1v3h-1zM669 142h1v2h-1zM670 139h1v3h-1zM671 136h1v3h-1zM672 134h1v2h-1zM673 132h1v2h-1zM674 131h1v1h-1zM675 129h1v2h-1zM676 128h1v1h-1zM677 126h1v2h-1zM678 125h1v1h-1zM679 123h1v2h-1zM680 121h1v2h-1zM681 119h1v2h-1zM682 117h1v2h-1zM683 116h1v1h-1zM684 115h1v1h-1zM685 114h1v1h-1zM686 113h1v1h-1zM687 112h1v1h-1zM688 111h3v1h-3zM691 110h2v1h-2zM693 111h1v1h-1zM694 112h1v1h-1zM695 113h1v1h-1zM696 114h1v1h-1zM697 115h1v2h-1zM698 117h1v1h-1zM699 118h1v1h-1zM700 119h1v2h-1zM701 121h1v1h-1zM702 122h1v2h-1zM703 124h1v2h-1zM704 126h1v2h-1zM705 128h1v2h-1zM706 130h1v2h-1zM707 132h1v2h-1zM708 134h1v2h-1zM709 136h1v1h-1zM710 137h1v2h-1zM711 139h1v2h-1zM712 141h1v2h-1zM713 143h1v2h-1zM714 145h1v1h-1zM715 146h1v2h-1zM716 148h1v1h-1zM717 149h1v1h-1zM718 150h2v1h-2zM720 151h1v1h-1zM721 152h1v1h-1zM722 153h1v2h-1zM723 155h1v1h-1zM724 156h1v2h-1zM725 157h2v1h-2zM727 158h3v1h-3zM730 159h1v1h-1zM731 160h1v1h-1zM732 161h1v2h-1zM733 163h1v1h-1zM734 162h3v1h-3zM737 161h1v1h-1zM738 160h1v1h-1zM739 158h1v2h-1zM740 157h1v1h-1zM741 156h1v1h-1zM742 154h1v2h-1zM743 153h6v1h-6zM749 152h4v1h-4zM753 153h2v1h-2zM755 154h1v1h-1zM756 155h1v1h-1zM757 156h2v1h-2zM759 157h1v1h-1zM760 158h5v1h-5zM765 157h4v1h-4zM769 156h2v1h-2zM771 155h1v1h-1zM772 154h1v1h-1zM773 153h2v1h-2zM775 152h4v1h-4zM779 153h1v1h-1zM780 154h1v1h-1zM781 155h1v1h-1zM782 156h1v2h-1zM783 158h1v1h-1zM784 159h1v1h-1zM785 160h1v1h-1zM786 161h1v1h-1zM787 162h1v2h-1zM788 164h1v1h-1zM789 165h1v2h-1zM790 167h1v2h-1zM791 169h1v1h-1zM792 170h1v1h-1zM793 171h1v2h-1zM794 173h1v1h-1zM795 174h2v1h-2zM797 175h1v1h-1zM798 176h1v1h-1zM799 177h1v1h-1zM800 178h1v1h-1zM801 179h1v1h-1zM802 180h1v2h-1zM803 182h1v1h-1zM804 183h1v1h-1zM805 184h1v1h-1zM806 185h1v1h-1zM807 186h1v1h-1zM808 187h1v1h-1zM809 188h1v2h-1zM810 190h1v1h-1zM811 191h1v1h-1zM812 192h1v2h-1zM813 194h1v2h-1zM814 196h1v1h-1zM815 197h1v2h-1zM816 199h1v2h-1zM817 201h1v2h-1zM818 203h1v1h-1zM819 204h2v1h-2zM821 205h1v1h-1zM822 206h1v2h-1zM823 208h1v2h-1zM824 210h1v2h-1zM825 212h1v1h-1zM826 213h1v2h-1zM827 215h1v1h-1zM828 216h5v1h-5zM833 215h2v1h-2zM835 214h4v1h-4zM839 215h1v1h-1zM840 216h1v1h-1zM841 217h1v1h-1zM842 218h1v1h-1zM843 219h1v1h-1zM844 220h1v2h-1zM845 222h1v2h-1zM846 224h1v1h-1zM847 225h1v1h-1zM848 226h1v2h-1zM849 228h1v1h-1zM850 229h1v1h-1zM851 230h1v2h-1zM852 232h1v2h-1zM853 234h1v3h-1zM854 237h1v2h-1zM855 239h1v2h-1zM856 241h1v2h-1zM857 243h1v1h-1zM858 244h1v1h-1zM859 245h1v2h-1zM860 247h1v2h-1zM861 249h1v2h-1zM862 251h1v2h-1zM863 253h1v2h-1zM864 255h1v2h-1zM865 257h1v1h-1zM866 258h1v1h-1zM867 259h2v1h-2zM869 260h2v1h-2zM871 261h1v2h-1zM872 263h1v1h-1zM873 264h1v2h-1zM874 266h1v2h-1zM875 268h1v1h-1zM876 269h1v2h-1zM877 271h1v1h-1zM878 272h1v1h-1zM879 273h1v2h-1zM880 275h1v1h-1zM881 274h5v1h-5zM886 273h2v1h-2zM888 272h5v1h-5zM893 271h2v1h-2zM895 270h2v1h-2zM897 269h3v1h-3zM900 268h4v1h-4zM904 267h2v1h-2zM906 266h1v1h-1zM907 265h4v1h-4zM911 266h3v1h-3zM914 267h1v2h-1zM915 269h1v2h-1zM916 271h1v2h-1zM917 273h1v2h-1zM918 275h1v2h-1zM919 277h1v3h-1zM920 280h1v2h-1zM921 282h1v2h-1zM922 284h1v2h-1zM923 286h1v2h-1zM924 288h1v2h-1zM925 290h1v2h-1zM926 292h1v2h-1zM927 294h1v1h-1z" fill="#0000cd"/>
<path d="M4 295h3v1h-3zM7 296h2v1h-2zM9 297h1v1h-1zM10 298h2v1h-2zM12 297h1v1h-1zM13 296h1v1h-1zM14 295h1v1h-1zM15 294h1v1h-1zM16 293h2v1h-2zM18 292h6v1h-6zM24 291h2v1h-2zM26 290h1v1h-1zM27 289h1v1h-1zM28 287h1v2h-1zM29 286h1v1h-1zM30 284h1v2h-1zM31 281h1v3h-1zM32 279h1v2h-1zM33 277h1v2h-1zM34 275h1v2h-1zM35 273h1v2h-1zM36 270h1v3h-1zM37 268h1v2h-1zM38 266h1v2h-1zM39 265h5v1h-5zM44 264h2v1h-2zM46 263h2v1h-2zM48 262h1v1h-1zM49 261h1v1h-1zM50 260h1v1h-1zM51 259h1v1h-1zM52 258h1v1h-1zM53 257h1v1h-1zM54 256h1v1h-1zM55 255h1v1h-1zM56 254h1v1h-1zM57 253h1v1h-1zM58 252h2v1h-2zM60 253h1v1h-1zM61 254h2v1h-2zM63 255h3v1h-3zM66 256h3v1h-3zM69 257h3v1h-3zM72 258h2v1h-2zM74 259h3v1h-3zM77 260h1v1h-1zM78 261h2v1h-2zM80 262h1v1h-1zM81 263h1v1h-1zM82 264h3v1h-3zM85 265h1v1h-1zM86 264h2v1h-2zM88 263h2v1h-2zM90 262h2v1h-2zM92 261h2v1h-2zM94 262h2v1h-2zM96 263h2v1h-2zM98 264h1v1h-1zM99 265h1v1h-1zM100 266h1v1h-1zM101 267h1v1h-1zM102 268h1v1h-1zM103 269h1v2h-1zM104 270h2v1h-2zM106 271h1v2h-1zM107 273h1v3h-1zM108 276h1v2h-1zM109 278h1v3h-1zM110 281h1v2h-1zM111 283h1v3h-1zM112 286h1v3h-1zM113 289h1v2h-1zM114 291h1v2h-1zM115 293h1v2h-1zM116 295h1v2h-1zM117 297h1v2h-1zM118 299h1v2h-1zM119 301h1v3h-1zM120 304h1v2h-1zM121 306h1v3h-1zM122 309h1v2h-1zM123 311h1v3h-1zM124 314h1v2h-1zM125 316h1v3h-1zM126 319h1v3h-1zM127 322h1v2h-1zM128 324h1v3h-1zM129 327h1v3h-1zM130 330h1v3h-1zM131 333h1v4h-1zM132 337h1v3h-1zM133 340h1v4h-1zM134 344h1v4h-1zM135 348h1v4h-1zM136 352h1v4h-1zM137 356h1v3h-1zM138 359h1v4h-1zM139 363h1v4h-1zM140 367h1v4h-1zM141 371h1v4h-1zM142 375h1v4h-1zM143 379h1v4h-1zM144 383h1v4h-1zM145 387h1v4h-1zM146 391h1v4h-1zM147 395h1v4h-1zM148 399h1v4h-1zM149 403h1v3h-1zM150 406h1v3h-1zM151 409h1v3h-1zM152 412h1v3h-1zM153 415h1v2h-1zM154 417h1v2h-1zM155 419h1v2h-1zM156 421h1v2h-1zM157 423h1v2h-1zM158 425h3v1h-3zM161 426h2v1h-2zM163 427h1v1h-1zM164 428h1v1h-1zM165 429h1v2h-1zM166 431h1v1h-1zM167 432h1v1h-1zM168 433h3v1h-3zM171 434h1v1h-1zM172 435h1v1h-1zM173 436h1v1h-1zM174 437h1v1h-1zM175 438h1v1h-1zM176 439h2v1h-2zM178 440h1v1h-1zM179 441h3v1h-3zM182 440h2v1h-2zM184 439h2v1h-2zM186 438h1v1h-1zM187 437h1v1h-1zM188 436h1v1h-1zM189 435h1v1h-1zM190 434h1v1h-1zM191 433h1v1h-1zM192 432h1v1h-1zM193 431h1v1h-1zM194 430h1v1h-1zM195 429h1v1h-1zM196 428h1v1h-1zM197 427h1v1h-1zM198 425h1v2h-1zM199 424h1v1h-1zM200 422h1v2h-1zM201 420h1v2h-1zM202 417h1v3h-1zM203 413h1v4h-1zM204 408h1v5h-1zM205 403h1v5h-1zM206 398h1v5h-1zM207 393h1v5h-1zM208 389h1v4h-1zM209 385h1v4h-1zM210 381h1v4h-1zM211 377h1v4h-1zM212 373h1v4h-1zM213 369h1v4h-1zM214 365h1v4h-1zM215 360h1v5h-1zM216 356h1v4h-1zM217 350h1v6h-1zM218 344h1v6h-1zM219 338h1v6h-1zM220 332h1v6h-1zM221 327h1v5h-1zM222 321h1v6h-1zM223 314h1v7h-1zM224 308h1v6h-1zM225 302h1v6h-1zM226 295h1v7h-1zM227 288h1v7h-1zM228 282h1v6h-1zM229 276h1v6h-1zM230 270h1v6h-1zM231 265h1v5h-1zM232 262h1v3h-1zM233 258h1v4h-1zM234 254h1v4h-1zM235 251h1v3h-1zM236 247h1v4h-1zM237 244h1v3h-1zM238 242h1v2h-1zM239 239h1v3h-1zM240 237h1v2h-1zM241 235h1v2h-1zM242 234h1v1h-1zM243 232h1v2h-1zM244 231h1v1h-1zM245 230h1v1h-1zM246 229h1v1h-1zM247 228h1v1h-1zM248 227h1v1h-1zM249 226h2v1h-2zM251 225h1v1h-1zM252 224h1v1h-1zM253 223h1v1h-1zM254 222h8v1h-8zM262 223h1v1h-1zM263 224h1v2h-1zM264 226h1v2h-1zM265 228h1v3h-1zM266 231h1v2h-1zM267 233h1v3h-1zM268 236h1v3h-1zM269 239h1v2h-1zM270 241h1v3h-1zM271 244h1v2h-1zM272 246h1v3h-1zM273 249h1v4h-1zM274 253h1v4h-1zM275 257h1v4h-1zM276 261h1v4h-1zM277 265h1v4h-1zM278 269h1v4h-1zM279 273h1v4h-1zM280 277h1v5h-1zM281 282h1v4h-1zM282 286h1v5h-1zM283 291h1v4h-1zM284 295h1v5h-1zM285 300h1v5h-1zM286 305h1v5h-1zM287 310h1v6h-1zM288 316h1v5h-1zM289 321h1v4h-1zM290 325h1v3h-1zM291 328h1v2h-1zM292 330h1v1h-1zM293 331h2v1h-2zM295 332h1v1h-1zM296 333h2v1h-2zM298 334h2v1h-2zM300 333h1v1h-1zM301 331h1v2h-1zM302 329h1v2h-1zM303 326h1v3h-1zM304 324h1v2h-1zM305 321h1v3h-1zM306 318h1v3h-1zM307 316h1v2h-1zM308 314h1v2h-1zM309 312h1v2h-1zM310 310h1v2h-1zM311 309h1v1h-1zM312 307h1v2h-1zM313 306h1v1h-1zM314 303h1v3h-1zM315 300h1v3h-1zM316 297h1v3h-1zM317 295h1v2h-1zM318 293h1v2h-1zM319 292h1v1h-1zM320 291h1v1h-1zM321 290h1v1h-1zM322 289h1v1h-1zM323 287h1v2h-1zM324 286h1v1h-1zM325 285h1v1h-1zM326 284h1v1h-1zM327 283h1v1h-1zM328 282h3v1h-3zM331 283h1v1h-1zM332 284h1v1h-1zM333 285h1v1h-1zM334 286h1v1h-1zM335 287h1v2h-1zM336 289h1v2h-1zM337 291h1v2h-1zM338 293h1v2h-1zM339 295h1v2h-1zM340 297h1v2h-1zM341 299h1v2h-1zM342 301h1v2h-1zM343 303h1v2h-1zM344 305h1v2h-1zM345 307h1v2h-1zM346 309h1v2h-1zM347 311h1v2h-1zM348 313h1v2h-1zM349 315h1v2h-1zM350 317h1v2h-1zM351 319h1v1h-1zM352 320h1v1h-1zM353 321h1v1h-1zM354 322h1v2h-1zM355 324h1v1h-1zM356 325h1v2h-1zM357 327h1v1h-1zM358 328h1v2h-1zM359 330h1v1h-1zM360 331h1v1h-1zM361 332h5v1h-5zM366 333h1v1h-1zM367 331h1v2h-1zM368 330h1v1h-1zM369 328h1v2h-1zM370 326h1v2h-1zM371 324h1v2h-1zM372 322h1v2h-1zM373 320h1v2h-1zM374 318h1v2h-1zM375 315h1v3h-1zM376 313h1v2h-1zM377 311h1v2h-1zM378 310h1v1h-1zM379 308h1v2h-1zM380 307h1v1h-1zM381 306h1v1h-1zM382 305h1v1h-1zM383 304h2v1h-2zM385 303h1v1h-1zM386 304h1v1h-1zM387 305h1v2h-1zM388 307h1v1h-1zM389 308h2v1h-2zM391 309h1v1h-1zM392 310h1v1h-1zM393 311h1v1h-1zM394 310h1v1h-1zM395 309h2v1h-2zM397 308h2v1h-2zM399 309h2v1h-2zM401 310h1v2h-1zM402 312h1v2h-1zM403 314h1v1h-1zM404 315h1v2h-1zM405 317h1v1h-1zM406 318h1v1h-1zM407 319h1v1h-1zM408 320h2v1h-2zM410 321h3v1h-3zM413 319h1v2h-1zM414 317h1v2h-1zM415 314h1v3h-1zM416 310h1v4h-1zM417 308h1v2h-1zM418 306h1v2h-1zM419 305h1v1h-1zM420 304h1v1h-1zM421 303h2v1h-2zM423 304h4v1h-4zM427 305h1v1h-1zM428 306h4v1h-4zM432 305h2v1h-2zM434 304h4v1h-4zM438 305h1v1h-1zM439 306h1v1h-1zM440 307h1v1h-1zM441 308h1v1h-1zM442 309h1v1h-1zM443 310h1v2h-1zM444 312h1v2h-1zM445 314h1v1h-1zM446 315h2v1h-2zM448 316h2v1h-2zM450 317h4v1h-4zM454 316h9v1h-9zM463 317h2v1h-2zM465 316h2v1h-2zM467 315h1v1h-1zM468 314h1v1h-1zM469 311h1v3h-1zM470 309h1v2h-1zM471 306h1v3h-1zM472 304h1v2h-1zM473 301h1v3h-1zM474 298h1v3h-1zM475 295h1v3h-1zM476 293h1v2h-1zM477 291h1v2h-1zM478 289h1v2h-1zM479 286h1v3h-1zM480 283h1v3h-1zM481 281h1v2h-1zM482 278h1v3h-1zM483 275h1v3h-1zM484 273h1v2h-1zM485 271h1v2h-1zM486 269h1v2h-1zM487 266h1v3h-1zM488 264h1v2h-1zM489 263h1v1h-1zM490 261h1v2h-1zM491 259h1v2h-1zM492 257h1v2h-1zM493 256h1v1h-1zM494 255h4v1h-4zM498 256h1v1h-1zM499 257h1v1h-1zM500 258h1v1h-1zM501 259h1v2h-1zM502 261h1v1h-1zM503 262h1v1h-1zM504 263h1v1h-1zM505 264h1v2h-1zM506 266h1v1h-1zM507 267h1v1h-1zM508 268h1v1h-1zM509 269h1v1h-1zM510 270h1v1h-1zM511 271h1v1h-1zM512 272h3v1h-3zM515 271h2v1h-2zM517 270h1v1h-1zM518 269h1v1h-1zM519 267h1v2h-1zM520 266h1v1h-1zM521 263h1v3h-1zM522 261h1v2h-1zM523 259h1v2h-1zM524 257h1v2h-1zM525 255h1v2h-1zM526 253h1v2h-1zM527 251h1v2h-1zM528 249h1v2h-1zM529 248h1v1h-1zM530 247h1v1h-1zM531 245h1v2h-1zM532 244h2v1h-2zM534 243h1v1h-1zM535 242h1v1h-1zM536 241h1v1h-1zM537 242h1v1h-1zM538 243h1v1h-1zM539 244h1v1h-1zM540 245h1v1h-1zM541 246h1v2h-1zM542 248h3v1h-3zM545 249h1v1h-1zM546 250h2v1h-2zM548 251h2v1h-2zM550 250h1v1h-1zM551 248h1v2h-1zM552 247h1v1h-1zM553 245h1v2h-1zM554 243h1v2h-1zM555 241h1v2h-1zM556 238h1v3h-1zM557 234h1v4h-1zM558 230h1v4h-1zM559 227h1v3h-1zM560 223h1v4h-1zM561 219h1v4h-1zM562 215h1v4h-1zM563 210h1v5h-1zM564 205h1v5h-1zM565 199h1v6h-1zM566 194h1v5h-1zM567 188h1v6h-1zM568 183h1v5h-1zM569 178h1v5h-1zM570 172h1v6h-1zM571 165h1v7h-1zM572 160h1v5h-1zM573 156h1v4h-1zM574 153h1v3h-1zM575 150h1v3h-1zM576 148h1v2h-1zM577 146h1v2h-1zM578 145h1v1h-1zM579 144h2v1h-2zM581 143h1v1h-1zM582 142h1v1h-1zM583 141h2v1h-2zM585 142h1v1h-1zM586 143h1v1h-1zM587 144h1v2h-1zM588 146h1v1h-1zM589 147h1v1h-1zM590 148h1v2h-1zM591 150h1v3h-1zM592 153h1v3h-1zM593 156h1v3h-1zM594 159h1v4h-1zM595 163h1v4h-1zM596 167h1v4h-1zM597 171h1v4h-1zM598 175h1v3h-1zM599 178h1v4h-1zM600 182h1v4h-1zM601 186h1v2h-1zM602 188h1v3h-1zM603 191h1v2h-1zM604 193h1v1h-1zM605 194h2v1h-2zM607 195h1v1h-1zM608 196h1v1h-1zM609 197h1v1h-1zM610 198h1v1h-1zM611 199h1v2h-1zM612 200h1v1h-1zM613 201h2v1h-2zM615 202h1v1h-1zM616 201h2v1h-2zM618 200h3v1h-3zM621 199h4v1h-4zM625 198h1v1h-1zM626 197h2v1h-2zM628 196h1v1h-1zM629 195h1v1h-1zM630 194h1v1h-1zM631 193h7v1h-7zM638 192h1v1h-1zM639 191h1v1h-1zM640 190h1v1h-1zM641 189h1v1h-1zM642 187h1v2h-1zM643 186h1v1h-1zM644 184h1v2h-1zM645 183h1v1h-1zM646 181h1v2h-1zM647 180h1v1h-1zM648 178h1v2h-1zM649 176h1v2h-1zM650 174h1v2h-1zM651 172h1v2h-1zM652 170h1v2h-1zM653 168h1v2h-1zM654 166h1v2h-1zM655 164h1v2h-1zM656 162h1v2h-1zM657 160h1v2h-1zM658 158h1v2h-1zM659 157h1v1h-1zM660 154h1v3h-1zM661 151h1v3h-1zM662 148h1v3h-1zM663 145h1v3h-1zM664 141h1v4h-1zM665 138h1v3h-1zM666 134h1v4h-1zM667 130h1v4h-1zM668 127h1v3h-1zM669 123h1v4h-1zM670 119h1v4h-1zM671 116h1v3h-1zM672 113h1v3h-1zM673 110h1v3h-1zM674 108h1v2h-1zM675 107h1v1h-1zM676 106h1v1h-1zM677 104h1v2h-1zM678 103h1v1h-1zM679 102h1v1h-1zM680 101h1v1h-1zM681 99h1v2h-1zM682 99h1v1h-1zM683 98h6v1h-6zM689 99h1v2h-1zM690 101h1v2h-1zM691 103h1v2h-1zM692 105h1v1h-1zM693 106h1v2h-1zM694 108h1v3h-1zM695 111h1v4h-1zM696 115h1v4h-1zM697 119h1v4h-1zM698 123h1v5h-1zM699 128h1v4h-1zM700 132h1v5h-1zM701 137h1v4h-1zM702 141h1v2h-1zM703 143h1v3h-1zM704 146h1v3h-1zM705 149h1v2h-1zM706 151h1v2h-1zM707 153h1v3h-1zM708 156h1v2h-1zM709 158h1v2h-1zM710 160h1v1h-1zM711 161h2v1h-2zM713 162h3v1h-3zM716 163h3v1h-3zM719 164h2v1h-2zM721 165h2v1h-2zM723 164h1v1h-1zM724 162h1v2h-1zM725 161h1v1h-1zM726 159h1v2h-1zM727 158h1v1h-1zM728 156h1v2h-1zM729 156h1v1h-1zM730 155h3v1h-3zM733 154h1v1h-1zM734 153h2v1h-2zM736 152h1v1h-1zM737 151h1v1h-1zM738 150h1v1h-1zM739 149h4v1h-4zM743 150h1v1h-1zM744 151h1v1h-1zM745 152h1v1h-1zM746 153h1v1h-1zM747 154h1v1h-1zM748 155h6v1h-6zM754 156h1v1h-1zM755 157h1v1h-1zM756 158h8v1h-8zM764 159h2v1h-2zM766 158h5v1h-5zM771 157h1v1h-1zM772 156h1v1h-1zM773 155h2v1h-2zM775 154h1v1h-1zM776 153h7v1h-7zM783 154h1v1h-1zM784 155h1v2h-1zM785 157h1v2h-1zM786 159h1v2h-1zM787 161h1v2h-1zM788 163h1v2h-1zM789 165h1v3h-1zM790 168h1v2h-1zM791 170h1v2h-1zM792 172h1v2h-1zM793 174h1v2h-1zM794 176h1v2h-1zM795 178h1v2h-1zM796 180h1v2h-1zM797 182h1v3h-1zM798 185h1v4h-1zM799 189h1v3h-1zM800 192h1v3h-1zM801 195h1v3h-1zM802 198h1v2h-1zM803 200h1v2h-1zM804 202h1v2h-1zM805 204h1v2h-1zM806 206h1v2h-1zM807 208h1v1h-1zM808 209h1v1h-1zM809 210h1v2h-1zM810 211h1v1h-1zM811 210h2v1h-2zM813 209h2v1h-2zM815 208h3v1h-3zM818 207h1v1h-1zM819 205h1v2h-1zM820 204h1v1h-1zM821 205h2v1h-2zM823 206h1v2h-1zM824 208h1v1h-1zM825 209h1v2h-1zM826 211h1v2h-1zM827 213h1v1h-1zM828 214h1v1h-1zM829 215h1v2h-1zM830 217h1v1h-1zM831 218h2v1h-2zM833 219h2v1h-2zM835 218h4v1h-4zM839 219h1v3h-1zM840 222h1v2h-1zM841 224h1v2h-1zM842 226h1v2h-1zM843 228h1v3h-1zM844 231h1v2h-1zM845 233h1v1h-1zM846 234h1v2h-1zM847 236h1v2h-1zM848 238h1v1h-1zM849 239h1v2h-1zM850 241h1v1h-1zM851 242h1v1h-1zM852 243h1v1h-1zM853 244h2v1h-2zM855 245h1v1h-1zM856 246h1v1h-1zM857 247h1v2h-1zM858 249h1v2h-1zM859 251h1v2h-1zM860 253h1v3h-1zM861 256h1v3h-1zM862 259h1v3h-1zM863 262h1v4h-1zM864 266h1v4h-1zM865 270h1v3h-1zM866 273h1v3h-1zM867 276h1v2h-1zM868 278h1v2h-1zM869 280h1v1h-1zM870 281h1v1h-1zM871 282h2v1h-2zM873 283h6v1h-6zM879 282h1v1h-1zM880 281h1v1h-1zM881 280h1v1h-1zM882 279h1v1h-1zM883 277h1v2h-1zM884 276h1v1h-1zM885 275h1v1h-1zM886 274h1v1h-1zM887 273h1v1h-1zM888 272h1v1h-1zM889 270h1v2h-1zM890 268h1v2h-1zM891 266h1v2h-1zM892 265h1v1h-1zM893 264h1v1h-1zM894 263h1v1h-1zM895 261h1v2h-1zM896 259h1v2h-1zM897 257h1v2h-1zM898 257h5v1h-5zM903 258h2v1h-2zM905 259h1v1h-1zM906 260h2v1h-2zM908 261h1v1h-1zM909 261h1v2h-1zM910 263h1v2h-1zM911 265h1v3h-1zM912 268h1v3h-1zM913 271h1v3h-1zM914 274h1v3h-1zM915 277h1v4h-1zM916 281h1v3h-1zM917 284h1v3h-1zM918 287h1v3h-1zM919 290h1v4h-1zM920 294h1v3h-1zM921 297h1v4h-1zM922 301h1v3h-1zM923 304h1v4h-1zM924 308h1v2h-1zM925 310h1v1h-1zM926 311h2v1h-2z" fill="#ff0000"/>
<rect x="4" y="43" width="1164" height="2" fill="#ff0000"/>
<rect x="4" y="165" width="1164" height="2" fill="#ff0000"/>
<rect x="4" y="268" width="1164" height="2" fill="#00ff00"/>
<rect x="4" y="346" width="1164" height="2" fill="#0000ff"/>
<rect x="4" y="444" width="1164" height="2" fill="#0000ff"/>
<rect x="3" y="266" width="6" height="6" fill="#00ff00"/><rect x="5" y="268" width="2" height="2" fill="#fff"/>
<rect x="1160" y="266" width="6" height="6" fill="#00ff00"/><rect x="1162" y="268" width="2" height="2" fill="#fff"/>
<rect x="3" y="344" width="6" height="6" fill="#0000ff"/><rect x="5" y="346" width="2" height="2" fill="#fff"/>
<rect x="1160" y="344" width="6" height="6" fill="#0000ff"/><rect x="1162" y="346" width="2" height="2" fill="#fff"/>
<path d="M5 600.5H1166" stroke="#c0c0c0" stroke-width="1" stroke-dasharray="3 3" fill="none"/>
<path d="M5 635.5H1166" stroke="#c0c0c0" stroke-width="1" stroke-dasharray="3 3" fill="none"/>
<rect x="1167" y="53" width="2" height="1" fill="#000"/>
<rect x="1167" y="86" width="2" height="1" fill="#000"/>
<rect x="1167" y="119" width="2" height="1" fill="#000"/>
<rect x="1167" y="152" width="2" height="1" fill="#000"/>
<rect x="1167" y="185" width="2" height="1" fill="#000"/>
<rect x="1167" y="218" width="2" height="1" fill="#000"/>
<rect x="1167" y="251" width="2" height="1" fill="#000"/>
<rect x="1167" y="284" width="2" height="1" fill="#000"/>
<rect x="1167" y="317" width="2" height="1" fill="#000"/>
<rect x="1167" y="350" width="2" height="1" fill="#000"/>
<rect x="1167" y="383" width="2" height="1" fill="#000"/>
<rect x="1167" y="416" width="2" height="1" fill="#000"/>
<rect x="1167" y="449" width="2" height="1" fill="#000"/>
<rect x="1167" y="482" width="2" height="1" fill="#000"/>
<rect x="1167" y="489" width="2" height="1" fill="#000"/>
<rect x="1167" y="534" width="2" height="1" fill="#000"/>
<rect x="1167" y="570" width="2" height="1" fill="#000"/>
<rect x="1167" y="575" width="2" height="1" fill="#000"/>
<rect x="1167" y="660" width="2" height="1" fill="#000"/>
<rect x="4" y="662" width="1" height="3" fill="#000"/>
<rect x="68" y="662" width="1" height="3" fill="#000"/>
<rect x="132" y="662" width="1" height="3" fill="#000"/>
<rect x="196" y="662" width="1" height="3" fill="#000"/>
<rect x="260" y="662" width="1" height="3" fill="#000"/>
<rect x="324" y="662" width="1" height="3" fill="#000"/>
<rect x="388" y="662" width="1" height="3" fill="#000"/>
<rect x="452" y="662" width="1" height="3" fill="#000"/>
<rect x="516" y="662" width="1" height="3" fill="#000"/>
<rect x="580" y="662" width="1" height="3" fill="#000"/>
<rect x="644" y="662" width="1" height="3" fill="#000"/>
<rect x="708" y="662" width="1" height="3" fill="#000"/>
<rect x="772" y="662" width="1" height="3" fill="#000"/>
<rect x="836" y="662" width="1" height="3" fill="#000"/>
<rect x="900" y="662" width="1" height="3" fill="#000"/>
<rect x="4" y="307" width="1" height="16" fill="#32cd32"/>
<rect x="6" y="312" width="1" height="15" fill="#ff0000"/>
<rect x="8" y="307" width="1" height="22" fill="#32cd32"/>
<rect x="10" y="316" width="1" height="36" fill="#32cd32"/>
<rect x="12" y="276" width="1" height="71" fill="#ff0000"/>
<rect x="14" y="267" width="1" height="25" fill="#ff0000"/>
<rect x="16" y="261" width="1" height="21" fill="#32cd32"/>
<rect x="18" y="265" width="1" height="22" fill="#ff0000"/>
<rect x="20" y="265" width="1" height="12" fill="#32cd32"/>
<rect x="22" y="248" width="1" height="27" fill="#ff0000"/>
<rect x="24" y="248" width="1" height="23" fill="#ff0000"/>
<rect x="26" y="252" width="1" height="18" fill="#ff0000"/>
<rect x="28" y="255" width="1" height="14" fill="#ff0000"/>
<rect x="30" y="256" width="1" height="16" fill="#ff0000"/>
<rect x="32" y="246" width="1" height="19" fill="#ff0000"/>
<rect x="34" y="226" width="1" height="27" fill="#ff0000"/>
<rect x="36" y="235" width="1" height="63" fill="#32cd32"/>
<rect x="40" y="272" width="1" height="15" fill="#ff0000"/>
<rect x="42" y="266" width="1" height="26" fill="#ff0000"/>
<rect x="44" y="258" width="1" height="16" fill="#ff0000"/>
<rect x="46" y="259" width="1" height="27" fill="#32cd32"/>
<rect x="48" y="222" width="1" height="60" fill="#ff0000"/>
<rect x="50" y="213" width="1" height="28" fill="#32cd32"/>
<rect x="52" y="225" width="1" height="16" fill="#32cd32"/>
<rect x="54" y="231" width="1" height="12" fill="#ff0000"/>
<rect x="56" y="229" width="1" height="12" fill="#ff0000"/>
<rect x="58" y="214" width="1" height="31" fill="#ff0000"/>
<rect x="60" y="226" width="1" height="31" fill="#32cd32"/>
<rect x="62" y="250" width="1" height="32" fill="#32cd32"/>
<rect x="64" y="267" width="1" height="23" fill="#32cd32"/>
<rect x="66" y="276" width="1" height="9" fill="#ff0000"/>
<rect x="68" y="280" width="1" height="8" fill="#ff0000"/>
<rect x="70" y="263" width="1" height="33" fill="#ff0000"/>
<rect x="72" y="253" width="1" height="55" fill="#32cd32"/>
<rect x="74" y="252" width="1" height="47" fill="#ff0000"/>
<rect x="76" y="250" width="1" height="20" fill="#32cd32"/>
<rect x="78" y="258" width="1" height="12" fill="#ff0000"/>
<rect x="80" y="247" width="1" height="16" fill="#ff0000"/>
<rect x="82" y="236" width="1" height="28" fill="#ff0000"/>
<rect x="84" y="225" width="1" height="31" fill="#32cd32"/>
<rect x="86" y="234" width="1" height="16" fill="#ff0000"/>
<rect x="88" y="238" width="1" height="15" fill="#32cd32"/>
<rect x="90" y="249" width="1" height="12" fill="#32cd32"/>
<rect x="92" y="260" width="1" height="14" fill="#32cd32"/>
<rect x="94" y="260" width="1" height="34" fill="#32cd32"/>
<rect x="96" y="258" width="1" height="46" fill="#32cd32"/>
<rect x="98" y="297" width="1" height="13" fill="#32cd32"/>
<rect x="100" y="300" width="1" height="15" fill="#32cd32"/>
<rect x="102" y="300" width="1" height="15" fill="#32cd32"/>
<rect x="104" y="297" width="1" height="10" fill="#ff0000"/>
<rect x="106" y="269" width="1" height="34" fill="#ff0000"/>
<rect x="108" y="269" width="1" height="63" fill="#32cd32"/>
<rect x="110" y="303" width="1" height="32" fill="#32cd32"/>
<rect x="112" y="319" width="1" height="20" fill="#ff0000"/>
<rect x="114" y="310" width="1" height="19" fill="#ff0000"/>
<rect x="116" y="309" width="1" height="14" fill="#ff0000"/>
<rect x="118" y="301" width="1" height="35" fill="#32cd32"/>
<rect x="120" y="292" width="1" height="35" fill="#ff0000"/>
<rect x="122" y="294" width="1" height="40" fill="#32cd32"/>
<rect x="124" y="303" width="1" height="71" fill="#32cd32"/>
<rect x="126" y="369" width="1" height="12" fill="#32cd32"/>
<rect x="128" y="376" width="1" height="16" fill="#32cd32"/>
<rect x="130" y="380" width="1" height="24" fill="#32cd32"/>
<rect x="132" y="383" width="1" height="28" fill="#32cd32"/>
<rect x="134" y="403" width="1" height="25" fill="#32cd32"/>
<rect x="136" y="411" width="1" height="19" fill="#32cd32"/>
<rect x="138" y="413" width="1" height="18" fill="#ff0000"/>
<rect x="140" y="405" width="1" height="13" fill="#ff0000"/>
<rect x="142" y="403" width="1" height="45" fill="#32cd32"/>
<rect x="144" y="411" width="1" height="27" fill="#ff0000"/>
<rect x="146" y="404" width="1" height="25" fill="#ff0000"/>
<rect x="148" y="415" width="1" height="10" fill="#ff0000"/>
<rect x="150" y="415" width="1" height="13" fill="#32cd32"/>
<rect x="152" y="417" width="1" height="14" fill="#32cd32"/>
<rect x="154" y="418" width="1" height="22" fill="#32cd32"/>
<rect x="156" y="414" width="1" height="33" fill="#32cd32"/>
<rect x="158" y="431" width="1" height="20" fill="#ff0000"/>
<rect x="160" y="426" width="1" height="10" fill="#32cd32"/>
<rect x="162" y="425" width="1" height="12" fill="#ff0000"/>
<rect x="164" y="425" width="1" height="13" fill="#ff0000"/>
<rect x="166" y="426" width="1" height="26" fill="#32cd32"/>
<rect x="168" y="440" width="1" height="28" fill="#ff0000"/>
<rect x="170" y="436" width="1" height="20" fill="#ff0000"/>
<rect x="172" y="437" width="1" height="12" fill="#32cd32"/>
<rect x="174" y="443" width="1" height="9" fill="#32cd32"/>
<rect x="176" y="447" width="1" height="8" fill="#ff0000"/>
<rect x="178" y="422" width="1" height="34" fill="#ff0000"/>
<rect x="180" y="434" width="1" height="40" fill="#32cd32"/>
<rect x="182" y="403" width="1" height="63" fill="#ff0000"/>
<rect x="184" y="413" width="1" height="11" fill="#ff0000"/>
<rect x="186" y="407" width="1" height="19" fill="#ff0000"/>
<rect x="188" y="402" width="1" height="8" fill="#000000"/>
<rect x="190" y="400" width="1" height="32" fill="#32cd32"/>
<rect x="192" y="406" width="1" height="27" fill="#32cd32"/>
<rect x="194" y="408" width="1" height="17" fill="#ff0000"/>
<rect x="196" y="409" width="1" height="11" fill="#32cd32"/>
<rect x="198" y="402" width="1" height="16" fill="#ff0000"/>
<rect x="200" y="394" width="1" height="12" fill="#ff0000"/>
<rect x="202" y="392" width="1" height="21" fill="#ff0000"/>
<rect x="204" y="343" width="1" height="57" fill="#ff0000"/>
<rect x="206" y="313" width="1" height="35" fill="#ff0000"/>
<rect x="208" y="306" width="1" height="18" fill="#ff0000"/>
<rect x="210" y="297" width="1" height="19" fill="#32cd32"/>
<rect x="212" y="304" width="1" height="15" fill="#ff0000"/>
<rect x="214" y="284" width="1" height="29" fill="#ff0000"/>
<rect x="216" y="258" width="1" height="46" fill="#ff0000"/>
<rect x="218" y="256" width="1" height="13" fill="#32cd32"/>
<rect x="220" y="247" width="1" height="16" fill="#ff0000"/>
<rect x="222" y="240" width="1" height="26" fill="#ff0000"/>
<rect x="224" y="247" width="1" height="12" fill="#32cd32"/>
<rect x="226" y="230" width="1" height="27" fill="#ff0000"/>
<rect x="228" y="211" width="1" height="25" fill="#ff0000"/>
<rect x="230" y="213" width="1" height="15" fill="#32cd32"/>
<rect x="232" y="210" width="1" height="11" fill="#ff0000"/>
<rect x="234" y="212" width="1" height="25" fill="#32cd32"/>
<rect x="236" y="217" width="1" height="12" fill="#ff0000"/>
<rect x="238" y="202" width="1" height="18" fill="#ff0000"/>
<rect x="240" y="205" width="1" height="45" fill="#32cd32"/>
<rect x="242" y="226" width="1" height="16" fill="#32cd32"/>
<rect x="244" y="227" width="1" height="20" fill="#ff0000"/>
<rect x="246" y="227" width="1" height="12" fill="#32cd32"/>
<rect x="248" y="226" width="1" height="13" fill="#32cd32"/>
<rect x="250" y="223" width="1" height="15" fill="#ff0000"/>
<rect x="252" y="209" width="1" height="23" fill="#ff0000"/>
<rect x="254" y="207" width="1" height="15" fill="#32cd32"/>
<rect x="256" y="204" width="1" height="15" fill="#ff0000"/>
<rect x="258" y="209" width="1" height="11" fill="#32cd32"/>
<rect x="260" y="212" width="1" height="6" fill="#ff0000"/>
<rect x="262" y="205" width="1" height="25" fill="#32cd32"/>
<rect x="264" y="225" width="1" height="40" fill="#32cd32"/>
<rect x="266" y="262" width="1" height="42" fill="#32cd32"/>
<rect x="268" y="299" width="1" height="14" fill="#32cd32"/>
<rect x="270" y="305" width="1" height="11" fill="#32cd32"/>
<rect x="272" y="296" width="1" height="14" fill="#ff0000"/>
<rect x="274" y="299" width="1" height="42" fill="#32cd32"/>
<rect x="276" y="320" width="1" height="42" fill="#32cd32"/>
<rect x="278" y="341" width="1" height="22" fill="#ff0000"/>
<rect x="280" y="343" width="1" height="8" fill="#32cd32"/>
<rect x="282" y="333" width="1" height="16" fill="#ff0000"/>
<rect x="284" y="329" width="1" height="12" fill="#ff0000"/>
<rect x="286" y="333" width="1" height="40" fill="#32cd32"/>
<rect x="288" y="342" width="1" height="33" fill="#ff0000"/>
<rect x="290" y="314" width="1" height="40" fill="#ff0000"/>
<rect x="292" y="311" width="1" height="15" fill="#ff0000"/>
<rect x="294" y="310" width="1" height="51" fill="#32cd32"/>
<rect x="296" y="318" width="1" height="12" fill="#32cd32"/>
<rect x="298" y="319" width="1" height="23" fill="#32cd32"/>
<rect x="300" y="294" width="1" height="39" fill="#ff0000"/>
<rect x="302" y="256" width="1" height="46" fill="#ff0000"/>
<rect x="304" y="269" width="1" height="46" fill="#32cd32"/>
<rect x="306" y="260" width="1" height="39" fill="#ff0000"/>
<rect x="308" y="244" width="1" height="20" fill="#ff0000"/>
<rect x="310" y="258" width="1" height="62" fill="#32cd32"/>
<rect x="312" y="274" width="1" height="32" fill="#ff0000"/>
<rect x="314" y="268" width="1" height="23" fill="#ff0000"/>
<rect x="316" y="264" width="1" height="23" fill="#ff0000"/>
<rect x="318" y="264" width="1" height="23" fill="#32cd32"/>
<rect x="320" y="278" width="1" height="25" fill="#32cd32"/>
<rect x="322" y="269" width="1" height="34" fill="#ff0000"/>
<rect x="324" y="269" width="1" height="29" fill="#32cd32"/>
<rect x="326" y="273" width="1" height="14" fill="#ff0000"/>
<rect x="328" y="277" width="1" height="17" fill="#32cd32"/>
<rect x="330" y="279" width="1" height="26" fill="#32cd32"/>
<rect x="332" y="289" width="1" height="15" fill="#ff0000"/>
<rect x="334" y="279" width="1" height="46" fill="#32cd32"/>
<rect x="336" y="282" width="1" height="60" fill="#32cd32"/>
<rect x="338" y="324" width="1" height="13" fill="#ff0000"/>
<rect x="340" y="327" width="1" height="21" fill="#32cd32"/>
<rect x="342" y="335" width="1" height="14" fill="#ff0000"/>
<rect x="344" y="332" width="1" height="11" fill="#ff0000"/>
<rect x="346" y="329" width="1" height="24" fill="#32cd32"/>
<rect x="348" y="330" width="1" height="32" fill="#32cd32"/>
<rect x="350" y="333" width="1" height="27" fill="#ff0000"/>
<rect x="352" y="326" width="1" height="17" fill="#32cd32"/>
<rect x="354" y="314" width="1" height="43" fill="#ff0000"/>
<rect x="356" y="309" width="1" height="15" fill="#32cd32"/>
<rect x="358" y="311" width="1" height="33" fill="#32cd32"/>
<rect x="360" y="303" width="1" height="36" fill="#ff0000"/>
<rect x="362" y="314" width="1" height="23" fill="#32cd32"/>
<rect x="364" y="319" width="1" height="20" fill="#32cd32"/>
<rect x="366" y="319" width="1" height="15" fill="#ff0000"/>
<rect x="368" y="316" width="1" height="8" fill="#ff0000"/>
<rect x="370" y="281" width="1" height="43" fill="#ff0000"/>
<rect x="372" y="262" width="1" height="48" fill="#ff0000"/>
<rect x="374" y="263" width="1" height="27" fill="#32cd32"/>
<rect x="376" y="264" width="1" height="22" fill="#ff0000"/>
<rect x="378" y="272" width="1" height="13" fill="#32cd32"/>
<rect x="380" y="280" width="1" height="19" fill="#32cd32"/>
<rect x="382" y="271" width="1" height="33" fill="#ff0000"/>
<rect x="384" y="252" width="1" height="52" fill="#32cd32"/>
<rect x="386" y="279" width="1" height="74" fill="#32cd32"/>
<rect x="388" y="347" width="1" height="20" fill="#32cd32"/>
<rect x="390" y="354" width="1" height="19" fill="#32cd32"/>
<rect x="392" y="344" width="1" height="25" fill="#ff0000"/>
<rect x="394" y="303" width="1" height="55" fill="#ff0000"/>
<rect x="396" y="270" width="1" height="50" fill="#ff0000"/>
<rect x="398" y="286" width="1" height="23" fill="#ff0000"/>
<rect x="400" y="285" width="1" height="13" fill="#32cd32"/>
<rect x="402" y="283" width="1" height="14" fill="#32cd32"/>
<rect x="404" y="293" width="1" height="27" fill="#32cd32"/>
<rect x="406" y="302" width="1" height="30" fill="#32cd32"/>
<rect x="408" y="322" width="1" height="35" fill="#32cd32"/>
<rect x="410" y="285" width="1" height="69" fill="#ff0000"/>
<rect x="412" y="297" width="1" height="19" fill="#32cd32"/>
<rect x="414" y="287" width="1" height="29" fill="#ff0000"/>
<rect x="416" y="266" width="1" height="25" fill="#ff0000"/>
<rect x="418" y="265" width="1" height="30" fill="#32cd32"/>
<rect x="420" y="279" width="1" height="39" fill="#32cd32"/>
<rect x="422" y="296" width="1" height="30" fill="#32cd32"/>
<rect x="424" y="304" width="1" height="22" fill="#ff0000"/>
<rect x="426" y="302" width="1" height="17" fill="#32cd32"/>
<rect x="428" y="304" width="1" height="6" fill="#32cd32"/>
<rect x="430" y="299" width="1" height="20" fill="#ff0000"/>
<rect x="432" y="291" width="1" height="28" fill="#32cd32"/>
<rect x="434" y="294" width="1" height="31" fill="#ff0000"/>
<rect x="436" y="300" width="1" height="24" fill="#32cd32"/>
<rect x="438" y="318" width="1" height="14" fill="#32cd32"/>
<rect x="440" y="320" width="1" height="12" fill="#ff0000"/>
<rect x="442" y="316" width="1" height="16" fill="#ff0000"/>
<rect x="444" y="302" width="1" height="54" fill="#32cd32"/>
<rect x="446" y="319" width="1" height="25" fill="#ff0000"/>
<rect x="448" y="328" width="1" height="15" fill="#32cd32"/>
<rect x="450" y="316" width="1" height="13" fill="#ff0000"/>
<rect x="452" y="309" width="1" height="11" fill="#ff0000"/>
<rect x="454" y="296" width="1" height="17" fill="#ff0000"/>
<rect x="456" y="290" width="1" height="14" fill="#32cd32"/>
<rect x="458" y="296" width="1" height="12" fill="#32cd32"/>
<rect x="460" y="304" width="1" height="6" fill="#32cd32"/>
<rect x="462" y="309" width="1" height="22" fill="#32cd32"/>
<rect x="464" y="314" width="1" height="17" fill="#ff0000"/>
<rect x="466" y="306" width="1" height="28" fill="#32cd32"/>
<rect x="468" y="294" width="1" height="36" fill="#ff0000"/>
<rect x="470" y="266" width="1" height="36" fill="#ff0000"/>
<rect x="472" y="253" width="1" height="25" fill="#ff0000"/>
<rect x="474" y="255" width="1" height="11" fill="#32cd32"/>
<rect x="476" y="251" width="1" height="13" fill="#ff0000"/>
<rect x="478" y="237" width="1" height="36" fill="#ff0000"/>
<rect x="480" y="222" width="1" height="28" fill="#ff0000"/>
<rect x="482" y="210" width="1" height="27" fill="#ff0000"/>
<rect x="484" y="223" width="1" height="22" fill="#ff0000"/>
<rect x="486" y="224" width="1" height="22" fill="#32cd32"/>
<rect x="488" y="236" width="1" height="16" fill="#32cd32"/>
<rect x="490" y="244" width="1" height="25" fill="#32cd32"/>
<rect x="492" y="254" width="1" height="40" fill="#32cd32"/>
<rect x="494" y="257" width="1" height="30" fill="#32cd32"/>
<rect x="496" y="282" width="1" height="19" fill="#32cd32"/>
<rect x="498" y="290" width="1" height="12" fill="#ff0000"/>
<rect x="500" y="289" width="1" height="11" fill="#32cd32"/>
<rect x="502" y="287" width="1" height="27" fill="#32cd32"/>
<rect x="504" y="271" width="1" height="27" fill="#ff0000"/>
<rect x="506" y="270" width="1" height="26" fill="#ff0000"/>
<rect x="508" y="271" width="1" height="14" fill="#32cd32"/>
<rect x="510" y="264" width="1" height="14" fill="#ff0000"/>
<rect x="512" y="247" width="1" height="27" fill="#ff0000"/>
<rect x="514" y="207" width="1" height="45" fill="#ff0000"/>
<rect x="516" y="202" width="1" height="46" fill="#32cd32"/>
<rect x="518" y="235" width="1" height="7" fill="#ff0000"/>
<rect x="520" y="215" width="1" height="23" fill="#ff0000"/>
<rect x="522" y="218" width="1" height="22" fill="#32cd32"/>
<rect x="524" y="222" width="1" height="12" fill="#32cd32"/>
<rect x="526" y="224" width="1" height="20" fill="#ff0000"/>
<rect x="528" y="222" width="1" height="52" fill="#32cd32"/>
<rect x="530" y="247" width="1" height="18" fill="#32cd32"/>
<rect x="532" y="251" width="1" height="25" fill="#ff0000"/>
<rect x="534" y="247" width="1" height="16" fill="#32cd32"/>
<rect x="536" y="246" width="1" height="15" fill="#ff0000"/>
<rect x="538" y="250" width="1" height="42" fill="#32cd32"/>
<rect x="540" y="261" width="1" height="37" fill="#ff0000"/>
<rect x="542" y="253" width="1" height="25" fill="#ff0000"/>
<rect x="544" y="246" width="1" height="16" fill="#ff0000"/>
<rect x="546" y="249" width="1" height="13" fill="#ff0000"/>
<rect x="548" y="243" width="1" height="18" fill="#ff0000"/>
<rect x="550" y="197" width="1" height="52" fill="#ff0000"/>
<rect x="552" y="166" width="1" height="45" fill="#ff0000"/>
<rect x="554" y="172" width="1" height="27" fill="#32cd32"/>
<rect x="556" y="166" width="1" height="26" fill="#ff0000"/>
<rect x="558" y="154" width="1" height="18" fill="#ff0000"/>
<rect x="560" y="156" width="1" height="18" fill="#32cd32"/>
<rect x="562" y="162" width="1" height="18" fill="#ff0000"/>
<rect x="564" y="136" width="1" height="36" fill="#ff0000"/>
<rect x="566" y="108" width="1" height="35" fill="#ff0000"/>
<rect x="568" y="102" width="1" height="21" fill="#ff0000"/>
<rect x="570" y="92" width="1" height="14" fill="#ff0000"/>
<rect x="572" y="98" width="1" height="13" fill="#32cd32"/>
<rect x="574" y="92" width="1" height="37" fill="#32cd32"/>
<rect x="576" y="114" width="1" height="46" fill="#32cd32"/>
<rect x="578" y="149" width="1" height="16" fill="#32cd32"/>
<rect x="580" y="154" width="1" height="12" fill="#32cd32"/>
<rect x="582" y="153" width="1" height="13" fill="#32cd32"/>
<rect x="584" y="156" width="1" height="17" fill="#ff0000"/>
<rect x="586" y="151" width="1" height="43" fill="#32cd32"/>
<rect x="588" y="186" width="1" height="29" fill="#32cd32"/>
<rect x="590" y="193" width="1" height="30" fill="#32cd32"/>
<rect x="592" y="199" width="1" height="17" fill="#32cd32"/>
<rect x="594" y="197" width="1" height="18" fill="#ff0000"/>
<rect x="596" y="193" width="1" height="15" fill="#ff0000"/>
<rect x="598" y="191" width="1" height="38" fill="#32cd32"/>
<rect x="600" y="212" width="1" height="20" fill="#ff0000"/>
<rect x="602" y="215" width="1" height="19" fill="#32cd32"/>
<rect x="604" y="164" width="1" height="70" fill="#ff0000"/>
<rect x="606" y="163" width="1" height="35" fill="#ff0000"/>
<rect x="608" y="163" width="1" height="22" fill="#32cd32"/>
<rect x="610" y="176" width="1" height="42" fill="#32cd32"/>
<rect x="612" y="190" width="1" height="34" fill="#32cd32"/>
<rect x="614" y="198" width="1" height="34" fill="#ff0000"/>
<rect x="616" y="192" width="1" height="28" fill="#ff0000"/>
<rect x="618" y="189" width="1" height="35" fill="#ff0000"/>
<rect x="620" y="189" width="1" height="10" fill="#ff0000"/>
<rect x="622" y="178" width="1" height="44" fill="#32cd32"/>
<rect x="624" y="186" width="1" height="40" fill="#ff0000"/>
<rect x="626" y="182" width="1" height="17" fill="#32cd32"/>
<rect x="628" y="188" width="1" height="15" fill="#ff0000"/>
<rect x="630" y="185" width="1" height="12" fill="#ff0000"/>
<rect x="632" y="164" width="1" height="28" fill="#ff0000"/>
<rect x="634" y="142" width="1" height="37" fill="#32cd32"/>
<rect x="636" y="148" width="1" height="46" fill="#32cd32"/>
<rect x="638" y="180" width="1" height="11" fill="#32cd32"/>
<rect x="640" y="177" width="1" height="15" fill="#32cd32"/>
<rect x="642" y="170" width="1" height="11" fill="#ff0000"/>
<rect x="644" y="167" width="1" height="11" fill="#ff0000"/>
<rect x="646" y="137" width="1" height="39" fill="#ff0000"/>
<rect x="648" y="129" width="1" height="40" fill="#ff0000"/>
<rect x="650" y="137" width="1" height="35" fill="#32cd32"/>
<rect x="652" y="130" width="1" height="30" fill="#ff0000"/>
<rect x="654" y="132" width="1" height="29" fill="#32cd32"/>
<rect x="656" y="133" width="1" height="22" fill="#ff0000"/>
<rect x="658" y="122" width="1" height="31" fill="#32cd32"/>
<rect x="660" y="117" width="1" height="39" fill="#ff0000"/>
<rect x="662" y="84" width="1" height="45" fill="#ff0000"/>
<rect x="664" y="64" width="1" height="28" fill="#ff0000"/>
<rect x="666" y="66" width="1" height="22" fill="#32cd32"/>
<rect x="668" y="84" width="1" height="13" fill="#ff0000"/>
<rect x="670" y="69" width="1" height="26" fill="#ff0000"/>
<rect x="672" y="48" width="1" height="40" fill="#ff0000"/>
<rect x="674" y="62" width="1" height="44" fill="#32cd32"/>
<rect x="676" y="74" width="1" height="33" fill="#32cd32"/>
<rect x="678" y="90" width="1" height="30" fill="#32cd32"/>
<rect x="680" y="103" width="1" height="13" fill="#ff0000"/>
<rect x="682" y="93" width="1" height="39" fill="#ff0000"/>
<rect x="684" y="85" width="1" height="69" fill="#32cd32"/>
<rect x="686" y="120" width="1" height="26" fill="#ff0000"/>
<rect x="688" y="129" width="1" height="10" fill="#ff0000"/>
<rect x="690" y="122" width="1" height="21" fill="#ff0000"/>
<rect x="692" y="118" width="1" height="19" fill="#32cd32"/>
<rect x="694" y="121" width="1" height="36" fill="#32cd32"/>
<rect x="696" y="153" width="1" height="63" fill="#32cd32"/>
<rect x="698" y="190" width="1" height="24" fill="#ff0000"/>
<rect x="700" y="187" width="1" height="14" fill="#32cd32"/>
<rect x="702" y="181" width="1" height="29" fill="#ff0000"/>
<rect x="704" y="167" width="1" height="21" fill="#ff0000"/>
<rect x="706" y="167" width="1" height="14" fill="#32cd32"/>
<rect x="708" y="151" width="1" height="27" fill="#ff0000"/>
<rect x="710" y="145" width="1" height="32" fill="#32cd32"/>
<rect x="712" y="151" width="1" height="17" fill="#ff0000"/>
<rect x="714" y="141" width="1" height="18" fill="#ff0000"/>
<rect x="716" y="131" width="1" height="17" fill="#ff0000"/>
<rect x="718" y="122" width="1" height="21" fill="#ff0000"/>
<rect x="720" y="122" width="1" height="39" fill="#32cd32"/>
<rect x="722" y="141" width="1" height="25" fill="#32cd32"/>
<rect x="724" y="150" width="1" height="17" fill="#32cd32"/>
<rect x="726" y="150" width="1" height="12" fill="#ff0000"/>
<rect x="728" y="151" width="1" height="9" fill="#ff0000"/>
<rect x="730" y="151" width="1" height="25" fill="#32cd32"/>
<rect x="732" y="158" width="1" height="31" fill="#32cd32"/>
<rect x="734" y="154" width="1" height="26" fill="#ff0000"/>
<rect x="736" y="140" width="1" height="20" fill="#ff0000"/>
<rect x="738" y="138" width="1" height="14" fill="#ff0000"/>
<rect x="740" y="129" width="1" height="16" fill="#ff0000"/>
<rect x="742" y="124" width="1" height="24" fill="#32cd32"/>
<rect x="744" y="140" width="1" height="40" fill="#32cd32"/>
<rect x="746" y="152" width="1" height="23" fill="#32cd32"/>
<rect x="748" y="153" width="1" height="23" fill="#32cd32"/>
<rect x="750" y="149" width="1" height="22" fill="#ff0000"/>
<rect x="752" y="145" width="1" height="26" fill="#32cd32"/>
<rect x="754" y="153" width="1" height="27" fill="#32cd32"/>
<rect x="756" y="163" width="1" height="29" fill="#32cd32"/>
<rect x="758" y="166" width="1" height="10" fill="#ff0000"/>
<rect x="760" y="155" width="1" height="15" fill="#ff0000"/>
<rect x="762" y="155" width="1" height="10" fill="#32cd32"/>
<rect x="764" y="156" width="1" height="8" fill="#32cd32"/>
<rect x="766" y="154" width="1" height="29" fill="#32cd32"/>
<rect x="768" y="120" width="1" height="45" fill="#ff0000"/>
<rect x="770" y="121" width="1" height="24" fill="#ff0000"/>
<rect x="772" y="115" width="1" height="17" fill="#ff0000"/>
<rect x="774" y="119" width="1" height="22" fill="#32cd32"/>
<rect x="776" y="132" width="1" height="15" fill="#32cd32"/>
<rect x="778" y="135" width="1" height="25" fill="#32cd32"/>
<rect x="780" y="133" width="1" height="40" fill="#32cd32"/>
<rect x="782" y="162" width="1" height="24" fill="#32cd32"/>
<rect x="784" y="177" width="1" height="33" fill="#32cd32"/>
<rect x="786" y="199" width="1" height="14" fill="#ff0000"/>
<rect x="788" y="199" width="1" height="18" fill="#32cd32"/>
<rect x="790" y="211" width="1" height="49" fill="#32cd32"/>
<rect x="792" y="219" width="1" height="38" fill="#ff0000"/>
<rect x="794" y="205" width="1" height="25" fill="#ff0000"/>
<rect x="796" y="203" width="1" height="17" fill="#ff0000"/>
<rect x="798" y="197" width="1" height="21" fill="#ff0000"/>
<rect x="800" y="204" width="1" height="16" fill="#32cd32"/>
<rect x="802" y="204" width="1" height="19" fill="#ff0000"/>
<rect x="804" y="175" width="1" height="41" fill="#ff0000"/>
<rect x="806" y="186" width="1" height="37" fill="#32cd32"/>
<rect x="808" y="199" width="1" height="20" fill="#32cd32"/>
<rect x="810" y="199" width="1" height="20" fill="#ff0000"/>
<rect x="812" y="177" width="1" height="28" fill="#ff0000"/>
<rect x="814" y="164" width="1" height="32" fill="#32cd32"/>
<rect x="816" y="184" width="1" height="37" fill="#32cd32"/>
<rect x="818" y="195" width="1" height="20" fill="#32cd32"/>
<rect x="820" y="211" width="1" height="14" fill="#32cd32"/>
<rect x="822" y="205" width="1" height="25" fill="#32cd32"/>
<rect x="824" y="219" width="1" height="30" fill="#32cd32"/>
<rect x="826" y="239" width="1" height="32" fill="#32cd32"/>
<rect x="828" y="245" width="1" height="26" fill="#ff0000"/>
<rect x="830" y="216" width="1" height="47" fill="#ff0000"/>
<rect x="832" y="213" width="1" height="14" fill="#32cd32"/>
<rect x="834" y="202" width="1" height="20" fill="#ff0000"/>
<rect x="836" y="199" width="1" height="12" fill="#ff0000"/>
<rect x="838" y="189" width="1" height="23" fill="#32cd32"/>
<rect x="840" y="198" width="1" height="48" fill="#32cd32"/>
<rect x="842" y="240" width="1" height="22" fill="#32cd32"/>
<rect x="844" y="251" width="1" height="19" fill="#32cd32"/>
<rect x="846" y="259" width="1" height="11" fill="#ff0000"/>
<rect x="848" y="259" width="1" height="13" fill="#ff0000"/>
<rect x="850" y="245" width="1" height="26" fill="#32cd32"/>
<rect x="852" y="263" width="1" height="26" fill="#32cd32"/>
<rect x="854" y="267" width="1" height="21" fill="#32cd32"/>
<rect x="856" y="265" width="1" height="22" fill="#ff0000"/>
<rect x="858" y="269" width="1" height="11" fill="#32cd32"/>
<rect x="860" y="276" width="1" height="7" fill="#ff0000"/>
<rect x="862" y="274" width="1" height="21" fill="#32cd32"/>
<rect x="864" y="280" width="1" height="30" fill="#32cd32"/>
<rect x="866" y="283" width="1" height="29" fill="#ff0000"/>
<rect x="868" y="283" width="1" height="17" fill="#32cd32"/>
<rect x="870" y="287" width="1" height="20" fill="#ff0000"/>
<rect x="872" y="285" width="1" height="29" fill="#ff0000"/>
<rect x="874" y="255" width="1" height="47" fill="#ff0000"/>
<rect x="876" y="249" width="1" height="32" fill="#ff0000"/>
<rect x="878" y="257" width="1" height="10" fill="#32cd32"/>
<rect x="880" y="253" width="1" height="12" fill="#ff0000"/>
<rect x="882" y="243" width="1" height="26" fill="#ff0000"/>
<rect x="884" y="241" width="1" height="6" fill="#ff0000"/>
<rect x="886" y="221" width="1" height="30" fill="#32cd32"/>
<rect x="888" y="241" width="1" height="27" fill="#32cd32"/>
<rect x="890" y="242" width="1" height="15" fill="#ff0000"/>
<rect x="892" y="244" width="1" height="16" fill="#32cd32"/>
<rect x="894" y="252" width="1" height="12" fill="#32cd32"/>
<rect x="896" y="253" width="1" height="13" fill="#ff0000"/>
<rect x="898" y="253" width="1" height="34" fill="#32cd32"/>
<rect x="900" y="248" width="1" height="48" fill="#32cd32"/>
<rect x="902" y="268" width="1" height="26" fill="#ff0000"/>
<rect x="904" y="272" width="1" height="21" fill="#32cd32"/>
<rect x="906" y="265" width="1" height="25" fill="#32cd32"/>
<rect x="908" y="265" width="1" height="20" fill="#ff0000"/>
<rect x="910" y="260" width="1" height="34" fill="#32cd32"/>
<rect x="912" y="259" width="1" height="58" fill="#32cd32"/>
<rect x="914" y="314" width="1" height="39" fill="#32cd32"/>
<rect x="916" y="340" width="1" height="15" fill="#32cd32"/>
<rect x="918" y="347" width="1" height="18" fill="#32cd32"/>
<rect x="920" y="347" width="1" height="10" fill="#ff0000"/>
<rect x="922" y="344" width="1" height="27" fill="#32cd32"/>
<rect x="924" y="338" width="1" height="30" fill="#ff0000"/>
<rect x="926" y="282" width="1" height="77" fill="#ff0000"/>
<rect x="928" y="282" width="1" height="32" fill="#32cd32"/>
</svg>
<div class="ax" style="top:48px;">0.93630</div>
<div class="ax" style="top:81px;">0.93360</div>
<div class="ax" style="top:114px;">0.93085</div>
<div class="ax" style="top:147px;">0.92815</div>
<div class="ax" style="top:180px;">0.92545</div>
<div class="ax" style="top:213px;">0.92270</div>
<div class="ax" style="top:246px;">0.92000</div>
<div class="ax" style="top:279px;">0.91730</div>
<div class="ax" style="top:312px;">0.91455</div>
<div class="ax" style="top:345px;">0.91185</div>
<div class="ax" style="top:378px;">0.90915</div>
<div class="ax" style="top:411px;">0.90640</div>
<div class="ax" style="top:444px;">0.90370</div>
<div class="ax" style="top:477px;">0.90100</div>
<div class="ax" style="left:1170px;top:489px;">0.00431</div>
<div class="ax" style="left:1170px;top:529px;">0.00</div>
<div class="ax" style="left:1170px;top:559px;">-0.003405</div>
<div class="ax" style="left:1170px;top:575px;">100</div>
<div class="ax" style="left:1170px;top:595px;">70</div>
<div class="ax" style="left:1170px;top:630px;">30</div>
<div class="ax" style="left:1170px;top:649px;">0</div>
<div class="lab" style="top:38px;background:#ff0000;color:#fff;"><span>0.93702</span></div>
<div class="lab" style="top:160px;background:#ff0000;color:#fff;"><span>0.92699</span></div>
<div class="lab" style="top:263px;background:#00ff00;color:#fff;"><span>0.91855</span></div>
<div class="lab" style="top:303px;background:#000;color:#fff;"><span>0.91533</span></div>
<div class="lab" style="top:341px;background:#0000ff;color:#fff;"><span>0.91208</span></div>
<div class="lab" style="top:439px;background:#0000ff;color:#fff;"><span>0.90405</span></div>
<div class="t" style="left:4px;top:666px;transform:scaleX(0.916);transform-origin:0 0;">15 Jul 2021</div>
<div class="t" style="left:68px;top:666px;transform:scaleX(0.942);transform-origin:0 0;">22 Jul 10:00</div>
<div class="t" style="left:132px;top:666px;transform:scaleX(0.942);transform-origin:0 0;">29 Jul 18:00</div>
<div class="t" style="left:196px;top:666px;">6 Aug 00:00</div>
<div class="t" style="left:260px;top:666px;">13 Aug 10:00</div>
<div class="t" style="left:324px;top:666px;">20 Aug 18:00</div>
<div class="t" style="left:388px;top:666px;">28 Aug 00:00</div>
<div class="t" style="left:452px;top:666px;">6 Sep 11:00</div>
<div class="t" style="left:516px;top:666px;">13 Sep 19:00</div>
<div class="t" style="left:580px;top:666px;">21 Sep 00:00</div>
<div class="t" style="left:644px;top:666px;">28 Sep 10:00</div>
<div class="t" style="left:708px;top:666px;">5 Oct 18:00</div>
<div class="t" style="left:772px;top:666px;">13 Oct 00:00</div>
<div class="t" style="left:836px;top:666px;">20 Oct 10:00</div>
<div class="t" style="left:900px;top:666px;">27 Oct 18:00</div>
<div class="t" style="left:8px;top:492px;">MACD(12,26,9) -0.001464 -0.001507</div>
<div class="t" style="left:8px;top:578px;">RSI(14) 47.2134</div>
<div class="abs" style="left:4px;top:44px;width:1px;height:1px;background:#f00;z-index:5;"></div>
<div class="abs" style="left:4px;top:26px;width:224px;height:77px;background:#fff;"></div>
<svg class="abs" style="left:7px;top:32px;" width="7" height="4" viewBox="0 0 7 4"><path d="M0 4L3.5 0L7 4Z" fill="#000"/></svg>
<div class="t" style="left:19px;top:29px;letter-spacing:0.4px;">USDCHF,H4</div>
<div class="t" style="left:80px;top:29px;letter-spacing:-0.04px;">0.91674 0.91745 0.91495 0.91533</div>
<div class="abs" style="left:7px;top:45px;width:109px;height:57px;background:linear-gradient(#fa5050 0%,#e63636 30%,#d62222 50%,#bc0e0e 80%,#aa0000 100%);"></div>
<div class="abs" style="left:118px;top:45px;width:108px;height:57px;background:linear-gradient(#fa5050 0%,#e63636 30%,#d62222 50%,#bc0e0e 80%,#aa0000 100%);"></div>
<div class="abs" style="left:59px;top:42px;width:115px;height:27px;background:#fff;"></div>
<div class="abs" style="left:7px;top:45px;width:1px;height:57px;background:#b40000;"></div>
<div class="abs" style="left:7px;top:45px;width:52px;height:1px;background:#b40000;"></div>
<div class="abs" style="left:58px;top:45px;width:1px;height:25px;background:#b40000;"></div>
<div class="abs" style="left:58px;top:69px;width:58px;height:1px;background:#b40000;"></div>
<div class="abs" style="left:115px;top:69px;width:1px;height:33px;background:#b40000;"></div>
<div class="abs" style="left:7px;top:101px;width:109px;height:1px;background:#b40000;"></div>
<div class="abs" style="left:118px;top:69px;width:1px;height:33px;background:#b40000;"></div>
<div class="abs" style="left:118px;top:69px;width:57px;height:1px;background:#b40000;"></div>
<div class="abs" style="left:174px;top:45px;width:1px;height:25px;background:#b40000;"></div>
<div class="abs" style="left:174px;top:45px;width:52px;height:1px;background:#b40000;"></div>
<div class="abs" style="left:225px;top:45px;width:1px;height:57px;background:#b40000;"></div>
<div class="abs" style="left:118px;top:101px;width:108px;height:1px;background:#b40000;"></div>
<div class="abs" style="left:11px;top:68px;width:44px;height:1px;background:#8a0000;"></div>
<div class="abs" style="left:11px;top:69px;width:44px;height:1px;background:#ff7474;"></div>
<div class="abs" style="left:178px;top:68px;width:44px;height:1px;background:#8a0000;"></div>
<div class="abs" style="left:178px;top:69px;width:44px;height:1px;background:#ff7474;"></div>
<div class="abs" style="left:61px;top:45px;width:109px;height:20px;border:1px solid #a8acb4;background:#fff;"></div>
<div class="abs" style="left:63px;top:47px;width:18px;height:18px;background:linear-gradient(#f2f2f2 0%,#e6e6e6 48%,#d4d4d4 52%,#d0d0d0 100%);"></div>
<div class="abs" style="left:82px;top:46px;width:1px;height:20px;background:#a8acb4;"></div>
<div class="abs" style="left:152px;top:47px;width:18px;height:18px;background:linear-gradient(#f2f2f2 0%,#e6e6e6 48%,#d4d4d4 52%,#d0d0d0 100%);"></div>
<div class="abs" style="left:150px;top:46px;width:1px;height:20px;background:#a8acb4;"></div>
<svg class="abs" style="left:69px;top:54px;" width="6" height="4" viewBox="0 0 6 4"><path d="M0 0H6L3 3.5Z" fill="#4455bb"/></svg>
<svg class="abs" style="left:158px;top:53px;" width="6" height="4" viewBox="0 0 6 4"><path d="M0 4H6L3 0.5Z" fill="#4455bb"/></svg>
<div class="abs" style="left:90px;top:48px;width:57px;height:16px;line-height:16px;font-size:12px;text-align:right;">3.00</div>
<div class="abs" style="left:19.1px;top:49px;font-size:12.3px;line-height:16px;color:#fff;transform:scaleX(0.87);transform-origin:0 0;">SELL</div>
<div class="abs" style="left:187px;top:49px;font-size:12.3px;line-height:16px;color:#fff;transform:scaleX(0.92);transform-origin:0 0;">BUY</div>
<div class="abs" style="left:27px;top:85.5px;font-size:12.4px;line-height:14px;font-weight:bold;color:#fff;">0.91</div>
<svg class="abs" style="left:54.7px;top:68px;" width="44" height="36" viewBox="0 0 44 36"><defs><mask id="mk1"><text x="0" y="30.1" font-family="Liberation Sans, sans-serif" font-size="35.8" textLength="34.3" lengthAdjust="spacingAndGlyphs" fill="#fff" stroke="#000" stroke-width="0.6">53</text></mask></defs><rect x="0" y="0" width="44" height="36" fill="#fff" mask="url(#mk1)"/></svg>
<div class="abs" style="left:94px;top:70.4px;font-size:12.2px;line-height:14px;font-weight:bold;color:#fff;">6</div>
<div class="abs" style="left:137px;top:85.5px;font-size:12.4px;line-height:14px;font-weight:bold;color:#fff;">0.91</div>
<svg class="abs" style="left:164.7px;top:68px;" width="44" height="36" viewBox="0 0 44 36"><defs><mask id="mk2"><text x="0" y="30.1" font-family="Liberation Sans, sans-serif" font-size="35.8" textLength="34.3" lengthAdjust="spacingAndGlyphs" fill="#fff" stroke="#000" stroke-width="0.6">55</text></mask></defs><rect x="0" y="0" width="44" height="36" fill="#fff" mask="url(#mk2)"/></svg>
<div class="abs" style="left:205px;top:70.4px;font-size:12.2px;line-height:14px;font-weight:bold;color:#fff;">0</div>
<div class="abs" style="left:0;top:682px;width:1208px;height:1px;background:#e8e8e8;"></div>
<div class="abs" style="left:0;top:684px;width:1208px;height:1px;background:#000;"></div>
<div class="abs" style="left:0;top:685px;width:1208px;height:1px;background:#fff;"></div>
<div class="abs" style="left:0;top:686px;width:1208px;height:18px;background:#f0f0f0;"></div>
<div class="abs" style="left:0;top:704px;width:1208px;height:1px;background:#ffffff;"></div>
<div class="abs" style="left:0;top:705px;width:1208px;height:1px;background:#f7f7f7;"></div>
<div class="abs" style="left:0;top:706px;width:1208px;height:2px;background:#f0f0f0;"></div>
<div class="abs" style="left:0;top:708px;width:1208px;height:1px;background:#a0a0a0;"></div>
<div class="abs" style="left:0;top:709px;width:1208px;height:1px;background:#e3e3e3;"></div>
<div class="abs" style="left:0;top:684px;width:1px;height:19px;background:#404040;"></div>
<div class="abs" style="left:213px;top:684px;width:86px;height:18px;background:#fff;border:1px solid #000;border-top:none;"></div>
<div class="abs" style="left:214px;top:684px;width:86px;height:2px;background:#fff;"></div>
<div class="tab" style="left:16.0px;transform:scaleX(0.9819);">EURUSD,Daily</div>
<div class="tab" style="left:119.3px;transform:scaleX(1.0025);">AUDUSD,Daily</div>
<div class="tab" style="left:311.7px;transform:scaleX(0.9855);">USDCAD,Daily</div>
<div class="tab" style="left:414.7px;transform:scaleX(0.9991);">USDCNH,Daily</div>
<div class="tab" style="left:521.0px;transform:scaleX(1.0125);">UKOil,H1</div>
<div class="tab" style="left:594.9px;transform:scaleX(0.9738);">DJ30,H1</div>
<div class="tab" style="left:664.1px;transform:scaleX(1.0014);">USDX,Weekly</div>
<div class="tab" style="left:763.3px;transform:scaleX(0.9986);">XAUUSD,Daily</div>
<div class="tab" style="left:868.6px;transform:scaleX(0.9566);">GBPUSD,H1</div>
<div class="tab" style="left:959.8px;transform:scaleX(1.0039);">USDX,Weekly</div>
<div class="tab" style="left:222.7px;color:#000;transform:scaleX(0.9706);">USDCHF,H4</div>
<div class="sep" style="left:109px;"></div>
<div class="sep" style="left:405px;"></div>
<div class="sep" style="left:509px;"></div>
<div class="sep" style="left:585px;"></div>
<div class="sep" style="left:653px;"></div>
<div class="sep" style="left:753px;"></div>
<div class="sep" style="left:857px;"></div>
<div class="sep" style="left:949px;"></div>
<div class="sep" style="left:1049px;"></div>
<svg class="abs" style="left:1182px;top:690px;" width="4" height="6" viewBox="0 0 4 6"><path d="M3.6 0V6L0.2 3Z" fill="#8c8c8c"/></svg>
<svg class="abs" style="left:1201px;top:690px;" width="4" height="6" viewBox="0 0 4 6"><path d="M0.2 0V6L3.6 3Z" fill="#8c8c8c"/></svg>
</body></html>
